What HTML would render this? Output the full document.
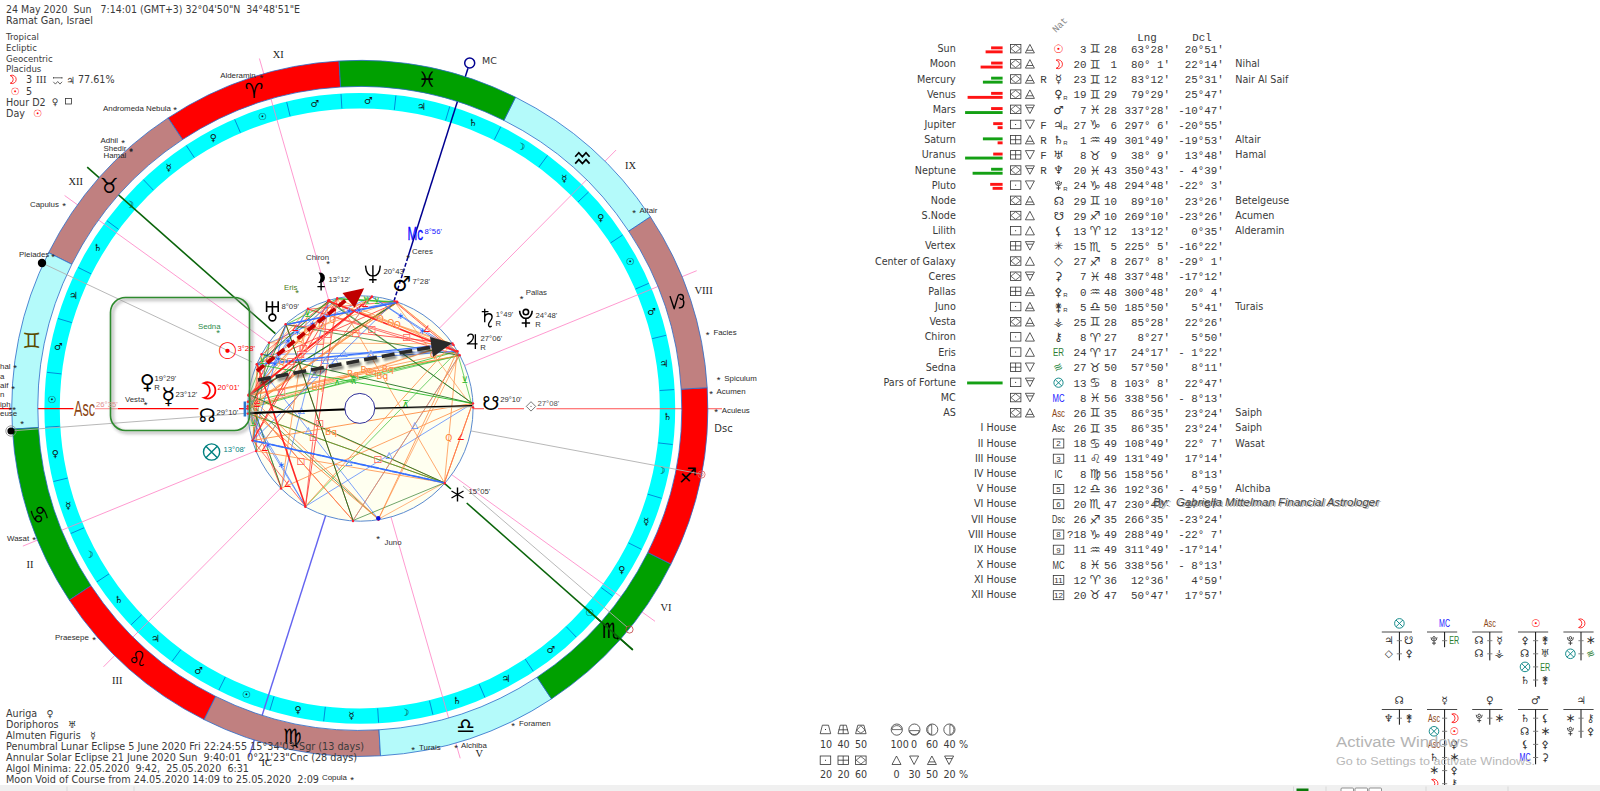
<!DOCTYPE html>
<html lang="en"><head><meta charset="utf-8"><title>Natal chart 24 May 2020 Ramat Gan</title>
<style>
html,body{margin:0;padding:0;background:#fff;overflow:hidden}
svg{display:block}
.vd{font-family:"DejaVu Sans","Liberation Sans",sans-serif}
.ar{font-family:"Liberation Sans","DejaVu Sans",sans-serif}
.ser{font-family:"Liberation Serif","DejaVu Serif",serif}
.mono{font-family:"Liberation Mono","DejaVu Sans Mono",monospace}
.sym{font-family:"DejaVu Sans","Liberation Sans",sans-serif}
</style></head><body>
<svg width="1600" height="791" viewBox="0 0 1600 791">
<defs><filter id="blur" x="-10%" y="-10%" width="120%" height="120%"><feGaussianBlur stdDeviation="1.6"/></filter>
<filter id="blur1" x="-10%" y="-50%" width="120%" height="200%"><feGaussianBlur stdDeviation="1.2"/></filter></defs>
<rect width="1600" height="791" fill="#fff"/>
<circle cx="359.8" cy="408.4" r="307.7" fill="none" stroke="#00FFFF" stroke-width="15.4"/>
<line x1="341.9" y1="108.4" x2="341" y2="94.1" stroke="#0070D0" stroke-width="0.8"/>
<line x1="290.1" y1="116.1" x2="286.7" y2="102.1" stroke="#0070D0" stroke-width="0.8"/>
<line x1="240.4" y1="132.6" x2="234.7" y2="119.4" stroke="#0070D0" stroke-width="0.8"/>
<line x1="194.3" y1="157.6" x2="186.4" y2="145.6" stroke="#0070D0" stroke-width="0.8"/>
<line x1="153.3" y1="190.1" x2="143.4" y2="179.7" stroke="#0070D0" stroke-width="0.8"/>
<line x1="118.5" y1="229.3" x2="106.9" y2="220.7" stroke="#0070D0" stroke-width="0.8"/>
<line x1="91.1" y1="273.9" x2="78.2" y2="267.5" stroke="#0070D0" stroke-width="0.8"/>
<line x1="71.8" y1="322.6" x2="58" y2="318.5" stroke="#0070D0" stroke-width="0.8"/>
<line x1="61.3" y1="373.9" x2="47" y2="372.3" stroke="#0070D0" stroke-width="0.8"/>
<line x1="59.8" y1="426.3" x2="45.5" y2="427.2" stroke="#0070D0" stroke-width="0.8"/>
<line x1="67.5" y1="478.1" x2="53.5" y2="481.5" stroke="#0070D0" stroke-width="0.8"/>
<line x1="84" y1="527.8" x2="70.8" y2="533.5" stroke="#0070D0" stroke-width="0.8"/>
<line x1="109" y1="573.9" x2="97" y2="581.8" stroke="#0070D0" stroke-width="0.8"/>
<line x1="141.5" y1="614.9" x2="131.1" y2="624.8" stroke="#0070D0" stroke-width="0.8"/>
<line x1="180.7" y1="649.7" x2="172.1" y2="661.3" stroke="#0070D0" stroke-width="0.8"/>
<line x1="225.3" y1="677.1" x2="218.9" y2="690" stroke="#0070D0" stroke-width="0.8"/>
<line x1="274" y1="696.4" x2="269.9" y2="710.2" stroke="#0070D0" stroke-width="0.8"/>
<line x1="325.3" y1="706.9" x2="323.7" y2="721.2" stroke="#0070D0" stroke-width="0.8"/>
<line x1="377.7" y1="708.4" x2="378.6" y2="722.7" stroke="#0070D0" stroke-width="0.8"/>
<line x1="429.5" y1="700.7" x2="432.9" y2="714.7" stroke="#0070D0" stroke-width="0.8"/>
<line x1="479.2" y1="684.2" x2="484.9" y2="697.4" stroke="#0070D0" stroke-width="0.8"/>
<line x1="525.3" y1="659.2" x2="533.2" y2="671.2" stroke="#0070D0" stroke-width="0.8"/>
<line x1="566.3" y1="626.7" x2="576.2" y2="637.1" stroke="#0070D0" stroke-width="0.8"/>
<line x1="601.1" y1="587.5" x2="612.7" y2="596.1" stroke="#0070D0" stroke-width="0.8"/>
<line x1="628.5" y1="542.9" x2="641.4" y2="549.3" stroke="#0070D0" stroke-width="0.8"/>
<line x1="647.8" y1="494.2" x2="661.6" y2="498.3" stroke="#0070D0" stroke-width="0.8"/>
<line x1="658.3" y1="442.9" x2="672.6" y2="444.5" stroke="#0070D0" stroke-width="0.8"/>
<line x1="659.8" y1="390.5" x2="674.1" y2="389.6" stroke="#0070D0" stroke-width="0.8"/>
<line x1="652.1" y1="338.7" x2="666.1" y2="335.3" stroke="#0070D0" stroke-width="0.8"/>
<line x1="635.6" y1="289" x2="648.8" y2="283.3" stroke="#0070D0" stroke-width="0.8"/>
<line x1="610.6" y1="242.9" x2="622.6" y2="235" stroke="#0070D0" stroke-width="0.8"/>
<line x1="578.1" y1="201.9" x2="588.5" y2="192" stroke="#0070D0" stroke-width="0.8"/>
<line x1="538.9" y1="167.1" x2="547.5" y2="155.5" stroke="#0070D0" stroke-width="0.8"/>
<line x1="494.3" y1="139.7" x2="500.7" y2="126.8" stroke="#0070D0" stroke-width="0.8"/>
<line x1="445.6" y1="120.4" x2="449.7" y2="106.6" stroke="#0070D0" stroke-width="0.8"/>
<line x1="394.3" y1="109.9" x2="395.9" y2="95.6" stroke="#0070D0" stroke-width="0.8"/>
<g class="sym" font-size="9.8" text-anchor="middle" fill="#101010">
<text x="314.8" y="107.4">♂︎</text>
<text x="262.6" y="119.9">☉︎</text>
<text x="213.4" y="141.2">♀︎</text>
<text x="168.6" y="170.7">☿︎</text>
<text x="129.6" y="207.6">☽︎</text>
<text x="97.7" y="250.6">♄︎</text>
<text x="73.7" y="298.6">♃︎</text>
<text x="58.4" y="350">♂︎</text>
<text x="52.2" y="403.3">☉︎</text>
<text x="55.4" y="456.8">♀︎</text>
<text x="67.9" y="509">☿︎</text>
<text x="89.2" y="558.2">☽︎</text>
<text x="118.7" y="603">♄︎</text>
<text x="155.6" y="642">♃︎</text>
<text x="198.6" y="673.9">♂︎</text>
<text x="246.6" y="697.9">☉︎</text>
<text x="298" y="713.2">♀︎</text>
<text x="351.3" y="719.4">☿︎</text>
<text x="404.8" y="716.2">☽︎</text>
<text x="457" y="703.7">♄︎</text>
<text x="506.2" y="682.4">♃︎</text>
<text x="551" y="652.9">♂︎</text>
<text x="590" y="616">☉︎</text>
<text x="621.9" y="573">♀︎</text>
<text x="645.9" y="525">☿︎</text>
<text x="661.2" y="473.6">☽︎</text>
<text x="667.4" y="420.3">♄︎</text>
<text x="664.2" y="366.8">♃︎</text>
<text x="651.7" y="314.6">♂︎</text>
<text x="630.4" y="265.4">☉︎</text>
<text x="600.9" y="220.6">♀︎</text>
<text x="564" y="181.6">☿︎</text>
<text x="521" y="149.7">☽︎</text>
<text x="473" y="125.7">♄︎</text>
<text x="421.6" y="110.4">♃︎</text>
<text x="368.3" y="104.2">♂︎</text>
</g>
<line x1="255.5" y1="451" x2="22.9" y2="546.1" stroke="#FF80C4" stroke-width="0.8"/>
<line x1="280.4" y1="488.4" x2="103.5" y2="666.8" stroke="#FF80C4" stroke-width="0.8"/>
<line x1="390.9" y1="516.7" x2="460.2" y2="758.3" stroke="#FF80C4" stroke-width="0.8"/>
<line x1="451.2" y1="474.3" x2="655" y2="621.3" stroke="#FF80C4" stroke-width="0.8"/>
<line x1="464.1" y1="365.8" x2="696.7" y2="270.7" stroke="#FF80C4" stroke-width="0.8"/>
<line x1="439.2" y1="328.4" x2="616.1" y2="150" stroke="#FF80C4" stroke-width="0.8"/>
<line x1="328.7" y1="300.1" x2="259.4" y2="58.5" stroke="#FF80C4" stroke-width="0.8"/>
<line x1="268.4" y1="342.5" x2="64.6" y2="195.5" stroke="#FF80C4" stroke-width="0.8"/>
<line x1="0" y1="408.7" x2="73.5" y2="408.7" stroke="#FF0000" stroke-width="1.3"/>
<line x1="95" y1="408.7" x2="118" y2="408.7" stroke="#FF9090" stroke-width="1.1"/>
<line x1="118" y1="408.7" x2="198.5" y2="408.7" stroke="#FF0000" stroke-width="1.3"/>
<line x1="239" y1="408.7" x2="247.1" y2="408.7" stroke="#FF0000" stroke-width="1.3"/>
<line x1="473" y1="408.7" x2="484" y2="408.7" stroke="#FF5050" stroke-width="1.1"/>
<line x1="498" y1="408.7" x2="524" y2="408.7" stroke="#FF5050" stroke-width="1.1"/>
<line x1="536.5" y1="408.7" x2="722" y2="408.7" stroke="#FF5050" stroke-width="1.1"/>
<line x1="407.9" y1="257.2" x2="468" y2="68.2" stroke="#000090" stroke-width="1.5"/>
<line x1="394" y1="301" x2="407.9" y2="257.2" stroke="#000090" stroke-width="1.5" stroke-dasharray="4 2"/>
<circle cx="469.7" cy="63" r="5" fill="#fff" stroke="#000090" stroke-width="1.5"/>
<line x1="325.6" y1="515.8" x2="248.8" y2="757.2" stroke="#6464F0" stroke-width="1.4"/>
<line x1="466.7" y1="503" x2="632.8" y2="649.9" stroke="#0A640A" stroke-width="1.6"/>
<line x1="444.2" y1="483.1" x2="450.9" y2="489" stroke="#0A640A" stroke-width="1.6"/>
<line x1="275.4" y1="333.7" x2="87.2" y2="167.2" stroke="#0A640A" stroke-width="1.6"/>
<path d="M339.1 61A348 348 0 0 0 168.1 117.9L182.5 139.6A322 322 0 0 1 340.6 87Z" fill="#FF0000" stroke="#2A6AC8" stroke-width="0.8"/>
<path d="M168.1 117.9A348 348 0 0 0 48.6 252.7L71.8 264.3A322 322 0 0 1 182.5 139.6Z" fill="#C08080" stroke="#2A6AC8" stroke-width="0.8"/>
<path d="M48.6 252.7A348 348 0 0 0 12.4 429.1L38.4 427.6A322 322 0 0 1 71.8 264.3Z" fill="#B4FAFA" stroke="#2A6AC8" stroke-width="0.8"/>
<path d="M12.4 429.1A348 348 0 0 0 69.3 600.1L91 585.7A322 322 0 0 1 38.4 427.6Z" fill="#00A000" stroke="#2A6AC8" stroke-width="0.8"/>
<path d="M69.3 600.1A348 348 0 0 0 204.1 719.6L215.7 696.4A322 322 0 0 1 91 585.7Z" fill="#FF0000" stroke="#2A6AC8" stroke-width="0.8"/>
<path d="M204.1 719.6A348 348 0 0 0 380.5 755.8L379 729.8A322 322 0 0 1 215.7 696.4Z" fill="#C08080" stroke="#2A6AC8" stroke-width="0.8"/>
<path d="M380.5 755.8A348 348 0 0 0 551.5 698.9L537.1 677.2A322 322 0 0 1 379 729.8Z" fill="#B4FAFA" stroke="#2A6AC8" stroke-width="0.8"/>
<path d="M551.5 698.9A348 348 0 0 0 671 564.1L647.8 552.5A322 322 0 0 1 537.1 677.2Z" fill="#00A000" stroke="#2A6AC8" stroke-width="0.8"/>
<path d="M671 564.1A348 348 0 0 0 707.2 387.7L681.2 389.2A322 322 0 0 1 647.8 552.5Z" fill="#FF0000" stroke="#2A6AC8" stroke-width="0.8"/>
<path d="M707.2 387.7A348 348 0 0 0 650.3 216.7L628.6 231.1A322 322 0 0 1 681.2 389.2Z" fill="#C08080" stroke="#2A6AC8" stroke-width="0.8"/>
<path d="M650.3 216.7A348 348 0 0 0 515.5 97.2L503.9 120.4A322 322 0 0 1 628.6 231.1Z" fill="#B4FAFA" stroke="#2A6AC8" stroke-width="0.8"/>
<path d="M515.5 97.2A348 348 0 0 0 339.1 61L340.6 87A322 322 0 0 1 503.9 120.4Z" fill="#00A000" stroke="#2A6AC8" stroke-width="0.8"/>
<g class="sym" font-size="21" text-anchor="middle" fill="#000">
<text x="254" y="97.6">♈︎</text>
<text x="109.2" y="193.1">♉︎</text>
<text x="31.6" y="348.1" fill="#5A4A00">♊︎</text>
<text x="38.8" y="521.7" transform="rotate(62 38.8 514.7)">♋︎</text>
<text x="137.5" y="666">♌︎</text>
<text x="292.5" y="743.6">♍︎</text>
<text x="465.6" y="733.2">♎︎</text>
<text x="610.4" y="637.7">♏︎</text>
<text x="688" y="482.7">♐︎</text>
<path transform="translate(677.6 302.6)" d="M-7.6 -6.5L-3.4 6.2L0.4 -6.5C1 -8.6 5.6 -8.9 5.8 -5.5C6 -2.7 2.3 -2.5 2.5 -5M5.3 -3.5C7.2 0 6.4 6 1.2 5.2" fill="none" stroke="#000" stroke-width="1.4" stroke-linejoin="round"/>
<path transform="translate(582.4 158.4)" d="M-7.2 -1.6L-3.6 -5.6L0 -1.6L3.6 -5.6L7.2 -1.6M-7.2 5.2L-3.6 1.2L0 5.2L3.6 1.2L7.2 5.2" fill="none" stroke="#000" stroke-width="1.7" stroke-linejoin="miter"/>
<text x="427.1" y="87.2">♓︎</text>
</g>
<line x1="584.5" y1="607.2" x2="632.8" y2="649.9" stroke="#0A640A" stroke-width="1.6"/>
<line x1="42" y1="263" x2="252" y2="362" stroke="#B0B0B0" stroke-width="0.9"/>
<line x1="10" y1="431" x2="250" y2="413" stroke="#B0B0B0" stroke-width="0.9"/>
<line x1="466" y1="430" x2="701" y2="474" stroke="#B0B0B0" stroke-width="0.9"/>
<line x1="463" y1="486" x2="627" y2="627" stroke="#B0B0B0" stroke-width="0.9"/>
<circle cx="42" cy="263" r="4.2" fill="#000"/>
<circle cx="11" cy="431" r="5.2" fill="none" stroke="#888" stroke-width="0.8"/><circle cx="11" cy="431" r="3.6" fill="#000"/>
<circle cx="701.5" cy="474.5" r="3.6" fill="none" stroke="#E06060" stroke-width="0.8"/><circle cx="701.5" cy="474.5" r="1.6" fill="none" stroke="#E06060" stroke-width="0.7"/>
<circle cx="629.5" cy="629.5" r="3.6" fill="none" stroke="#C04040" stroke-width="0.8"/>
<g class="ser" font-size="10.4" fill="#222">
<text x="694.4" y="293.5" textLength="18.3" lengthAdjust="spacingAndGlyphs">VIII</text>
<text x="272.8" y="57.8">XI</text>
<text x="68.5" y="184.5">XII</text>
<text x="26.5" y="568">II</text>
<text x="112" y="683.8">III</text>
<text x="475.5" y="757">V</text>
<text x="660.5" y="610.5">VI</text>
<text x="625" y="169">IX</text>
<text x="261.5" y="765.5">IC</text>
</g>
<text x="482" y="64" class="vd" fill="#333" font-size="9.5">MC</text>
<text x="714.3" y="432.3" class="vd" fill="#333" font-size="10">Dsc</text>
<circle cx="360.4" cy="408.5" r="112.7" fill="#FFFFF0" stroke="#5A8AD0" stroke-width="1"/>
<g stroke-linecap="round" opacity="0.9">
<line x1="257.2" y1="364.4" x2="453.2" y2="345.4" stroke="#2060FF" stroke-width="0.65"/>
<line x1="257.2" y1="364.4" x2="378.4" y2="519.2" stroke="#2060FF" stroke-width="0.65"/>
<line x1="257.2" y1="364.4" x2="308.2" y2="309.2" stroke="#FF8030" stroke-width="0.65"/>
<line x1="257.2" y1="364.4" x2="256.5" y2="451" stroke="#FF1010" stroke-width="0.65"/>
<line x1="257.2" y1="364.4" x2="329.4" y2="300.7" stroke="#0A640A" stroke-width="0.65"/>
<line x1="248.9" y1="395.7" x2="396.5" y2="302.3" stroke="#0A640A" stroke-width="0.65"/>
<line x1="248.9" y1="395.7" x2="281.4" y2="488.2" stroke="#0A640A" stroke-width="0.65"/>
<line x1="248.9" y1="395.7" x2="269.4" y2="342.9" stroke="#10B010" stroke-width="0.65"/>
<line x1="248.4" y1="401.9" x2="378.4" y2="519.2" stroke="#0A640A" stroke-width="0.65"/>
<line x1="248.4" y1="401.9" x2="308.2" y2="309.2" stroke="#2060FF" stroke-width="0.65"/>
<line x1="248.4" y1="401.9" x2="353" y2="520.5" stroke="#FF1010" stroke-width="0.65"/>
<line x1="249.1" y1="394.6" x2="256.5" y2="451" stroke="#10B010" stroke-width="0.65"/>
<line x1="249.1" y1="394.6" x2="281.4" y2="488.2" stroke="#0A640A" stroke-width="0.65"/>
<line x1="397.1" y1="302.5" x2="248.2" y2="406.3" stroke="#FF8030" stroke-width="0.65"/>
<line x1="457.1" y1="351.5" x2="472.6" y2="407.4" stroke="#10B010" stroke-width="0.65"/>
<line x1="457.1" y1="351.5" x2="396.5" y2="302.3" stroke="#FF8030" stroke-width="0.65"/>
<line x1="457.1" y1="351.5" x2="308.2" y2="309.2" stroke="#FF1010" stroke-width="0.65"/>
<line x1="457.1" y1="351.5" x2="262" y2="354.5" stroke="#2060FF" stroke-width="0.65"/>
<line x1="457.1" y1="351.5" x2="305.5" y2="506.4" stroke="#10B010" stroke-width="0.65"/>
<line x1="452" y1="343.8" x2="248.2" y2="406.3" stroke="#FF8030" stroke-width="0.65"/>
<line x1="452" y1="343.8" x2="269.4" y2="342.9" stroke="#FF8030" stroke-width="0.65"/>
<line x1="286" y1="324.6" x2="396.5" y2="302.3" stroke="#2060FF" stroke-width="0.65"/>
<line x1="286" y1="324.6" x2="353" y2="520.5" stroke="#FF1010" stroke-width="0.65"/>
<line x1="371.9" y1="296.9" x2="256.5" y2="451" stroke="#2060FF" stroke-width="0.65"/>
<line x1="371.9" y1="296.9" x2="269.4" y2="342.9" stroke="#2060FF" stroke-width="0.65"/>
<line x1="459.3" y1="355.5" x2="378.4" y2="519.2" stroke="#FF8030" stroke-width="0.65"/>
<line x1="459.3" y1="355.5" x2="248.2" y2="406.3" stroke="#10B010" stroke-width="0.65"/>
<line x1="459.3" y1="355.5" x2="308.2" y2="309.2" stroke="#FF1010" stroke-width="0.65"/>
<line x1="459.3" y1="355.5" x2="353" y2="520.5" stroke="#2060FF" stroke-width="0.65"/>
<line x1="248.3" y1="413.6" x2="305.5" y2="506.4" stroke="#2060FF" stroke-width="0.65"/>
<line x1="472.5" y1="403.4" x2="305.5" y2="506.4" stroke="#2060FF" stroke-width="0.65"/>
<line x1="472.5" y1="403.4" x2="329.4" y2="300.7" stroke="#0A640A" stroke-width="0.65"/>
<line x1="328.3" y1="301" x2="453.2" y2="345.4" stroke="#FF8030" stroke-width="0.65"/>
<line x1="328.3" y1="301" x2="248.2" y2="406.3" stroke="#FF8030" stroke-width="0.65"/>
<line x1="328.3" y1="301" x2="262" y2="354.5" stroke="#FF1010" stroke-width="0.65"/>
<line x1="328.3" y1="301" x2="305.5" y2="506.4" stroke="#FF1010" stroke-width="0.65"/>
<line x1="328.3" y1="301" x2="281.4" y2="488.2" stroke="#2060FF" stroke-width="0.65"/>
<line x1="444.4" y1="482.8" x2="378.4" y2="519.2" stroke="#FF8030" stroke-width="0.65"/>
<line x1="444.4" y1="482.8" x2="353" y2="520.5" stroke="#0A640A" stroke-width="0.65"/>
<line x1="472.6" y1="407.4" x2="394.4" y2="301.6" stroke="#FF8030" stroke-width="0.65"/>
<line x1="396.5" y1="302.3" x2="337.3" y2="298.7" stroke="#10B010" stroke-width="0.65"/>
<line x1="396.5" y1="302.3" x2="248.2" y2="408.5" stroke="#FF8030" stroke-width="0.65"/>
<line x1="308.2" y1="309.2" x2="394.4" y2="301.6" stroke="#FF1010" stroke-width="0.65"/>
<line x1="308.2" y1="309.2" x2="248.2" y2="408.5" stroke="#2060FF" stroke-width="0.65"/>
<line x1="262" y1="354.5" x2="252.8" y2="440.5" stroke="#FF1010" stroke-width="0.65"/>
<line x1="252.8" y1="440.5" x2="305.5" y2="506.4" stroke="#FF1010" stroke-width="0.65"/>
<line x1="252.8" y1="440.5" x2="269.4" y2="342.9" stroke="#0A640A" stroke-width="0.65"/>
<line x1="252.8" y1="440.5" x2="329.4" y2="300.7" stroke="#FF1010" stroke-width="0.65"/>
<line x1="394.4" y1="301.6" x2="269.4" y2="342.9" stroke="#FF8030" stroke-width="0.65"/>
<line x1="248.2" y1="408.5" x2="305.5" y2="506.4" stroke="#2060FF" stroke-width="0.65"/>
<line x1="248.2" y1="408.5" x2="281.4" y2="488.2" stroke="#FF1010" stroke-width="0.65"/>
<line x1="257.2" y1="364.4" x2="397.1" y2="302.5" stroke="#FF1010" stroke-width="0.75"/>
<line x1="257.2" y1="364.4" x2="457.1" y2="351.5" stroke="#2060FF" stroke-width="0.75"/>
<line x1="257.2" y1="364.4" x2="371.9" y2="296.9" stroke="#FF8030" stroke-width="0.75"/>
<line x1="257.2" y1="364.4" x2="328.3" y2="301" stroke="#0A640A" stroke-width="0.75"/>
<line x1="257.2" y1="364.4" x2="337.3" y2="298.7" stroke="#2060FF" stroke-width="0.75"/>
<line x1="257.2" y1="364.4" x2="252.8" y2="440.5" stroke="#FF8030" stroke-width="0.75"/>
<line x1="248.9" y1="395.7" x2="397.1" y2="302.5" stroke="#0A640A" stroke-width="0.75"/>
<line x1="248.9" y1="395.7" x2="457.1" y2="351.5" stroke="#FF8030" stroke-width="0.75"/>
<line x1="248.9" y1="395.7" x2="459.3" y2="355.5" stroke="#FF8030" stroke-width="0.75"/>
<line x1="248.9" y1="395.7" x2="444.4" y2="482.8" stroke="#FF8030" stroke-width="0.75"/>
<line x1="248.9" y1="395.7" x2="337.3" y2="298.7" stroke="#FF8030" stroke-width="0.75"/>
<line x1="248.4" y1="401.9" x2="286" y2="324.6" stroke="#FF1010" stroke-width="0.75"/>
<line x1="248.4" y1="401.9" x2="371.9" y2="296.9" stroke="#FF1010" stroke-width="0.75"/>
<line x1="248.4" y1="401.9" x2="459.3" y2="355.5" stroke="#10B010" stroke-width="0.75"/>
<line x1="249.1" y1="394.6" x2="397.1" y2="302.5" stroke="#0A640A" stroke-width="0.75"/>
<line x1="249.1" y1="394.6" x2="459.3" y2="355.5" stroke="#FF8030" stroke-width="0.75"/>
<line x1="249.1" y1="394.6" x2="337.3" y2="298.7" stroke="#FF8030" stroke-width="0.75"/>
<line x1="397.1" y1="302.5" x2="457.1" y2="351.5" stroke="#FF8030" stroke-width="0.75"/>
<line x1="397.1" y1="302.5" x2="337.3" y2="298.7" stroke="#10B010" stroke-width="0.75"/>
<line x1="397.1" y1="302.5" x2="248.2" y2="408.5" stroke="#FF8030" stroke-width="0.75"/>
<line x1="457.1" y1="351.5" x2="371.9" y2="296.9" stroke="#2060FF" stroke-width="0.75"/>
<line x1="457.1" y1="351.5" x2="444.4" y2="482.8" stroke="#FF8030" stroke-width="0.75"/>
<line x1="457.1" y1="351.5" x2="337.3" y2="298.7" stroke="#FF8030" stroke-width="0.75"/>
<line x1="457.1" y1="351.5" x2="248.2" y2="408.5" stroke="#10B010" stroke-width="0.75"/>
<line x1="452" y1="343.8" x2="286" y2="324.6" stroke="#FF1010" stroke-width="0.75"/>
<line x1="452" y1="343.8" x2="328.3" y2="301" stroke="#FF8030" stroke-width="0.75"/>
<line x1="452" y1="343.8" x2="248.2" y2="408.5" stroke="#FF8030" stroke-width="0.75"/>
<line x1="286" y1="324.6" x2="459.3" y2="355.5" stroke="#0A640A" stroke-width="0.75"/>
<line x1="286" y1="324.6" x2="248.3" y2="413.6" stroke="#0A640A" stroke-width="0.75"/>
<line x1="286" y1="324.6" x2="337.3" y2="298.7" stroke="#10B010" stroke-width="0.75"/>
<line x1="286" y1="324.6" x2="252.8" y2="440.5" stroke="#2060FF" stroke-width="0.75"/>
<line x1="286" y1="324.6" x2="394.4" y2="301.6" stroke="#2060FF" stroke-width="0.75"/>
<line x1="371.9" y1="296.9" x2="459.3" y2="355.5" stroke="#2060FF" stroke-width="0.75"/>
<line x1="459.3" y1="355.5" x2="394.4" y2="301.6" stroke="#FF1010" stroke-width="0.75"/>
<line x1="248.3" y1="413.6" x2="444.4" y2="482.8" stroke="#FF1010" stroke-width="0.75"/>
<line x1="472.5" y1="403.4" x2="328.3" y2="301" stroke="#0A640A" stroke-width="0.75"/>
<line x1="472.5" y1="403.4" x2="444.4" y2="482.8" stroke="#FF1010" stroke-width="0.75"/>
<line x1="328.3" y1="301" x2="252.8" y2="440.5" stroke="#FF1010" stroke-width="0.75"/>
<line x1="444.4" y1="482.8" x2="337.3" y2="298.7" stroke="#FF8030" stroke-width="0.75"/>
<line x1="444.4" y1="482.8" x2="252.8" y2="440.5" stroke="#2060FF" stroke-width="0.75"/>
<line x1="337.3" y1="298.7" x2="252.8" y2="440.5" stroke="#FF1010" stroke-width="0.75"/>
<line x1="337.3" y1="298.7" x2="394.4" y2="301.6" stroke="#10B010" stroke-width="0.75"/>
<line x1="252.8" y1="440.5" x2="394.4" y2="301.6" stroke="#2060FF" stroke-width="0.75"/>
<line x1="394.4" y1="301.6" x2="248.2" y2="408.5" stroke="#FF8030" stroke-width="0.75"/>
<line x1="378.4" y1="519.2" x2="248.9" y2="395.7" stroke="#FF8030" stroke-width="0.8"/>
<line x1="444.4" y1="482.8" x2="248.3" y2="413.6" stroke="#10B010" stroke-width="0.8"/>
<line x1="353" y1="520.5" x2="248.4" y2="401.9" stroke="#FF8030" stroke-width="0.8"/>
<line x1="305.5" y1="506.4" x2="337.3" y2="298.7" stroke="#FF1010" stroke-width="0.8"/>
<line x1="281.4" y1="488.2" x2="308.2" y2="309.2" stroke="#FF8030" stroke-width="0.8"/>
<line x1="444.4" y1="482.8" x2="256.5" y2="451" stroke="#FF8030" stroke-width="0.8"/>
<line x1="305.5" y1="506.4" x2="452" y2="343.8" stroke="#FF8030" stroke-width="0.8"/>
<line x1="353" y1="520.5" x2="459.3" y2="355.5" stroke="#FF8030" stroke-width="0.8"/>
<line x1="378.4" y1="519.2" x2="457.1" y2="351.5" stroke="#FF8030" stroke-width="0.8"/>
<line x1="281.4" y1="488.2" x2="472.5" y2="403.4" stroke="#FF8030" stroke-width="0.8"/>
<line x1="256.5" y1="451" x2="371.9" y2="296.9" stroke="#FF8030" stroke-width="0.8"/>
<line x1="472.5" y1="403.4" x2="444.4" y2="482.8" stroke="#FF8030" stroke-width="0.9"/>
<line x1="472.5" y1="403.4" x2="252.8" y2="440.5" stroke="#FF8030" stroke-width="0.9"/>
<line x1="378.4" y1="519.2" x2="248.2" y2="408.5" stroke="#FF8030" stroke-width="0.9"/>
<line x1="444.4" y1="482.8" x2="249.1" y2="394.6" stroke="#0A640A" stroke-width="0.9"/>
<line x1="472.5" y1="403.4" x2="262" y2="354.5" stroke="#0A640A" stroke-width="0.9"/>
<line x1="472.5" y1="403.4" x2="257.2" y2="364.4" stroke="#10B010" stroke-width="0.9"/>
<line x1="286" y1="324.6" x2="353" y2="520.5" stroke="#0A640A" stroke-width="1.0"/>
<line x1="257.2" y1="364.4" x2="452" y2="343.8" stroke="#2060FF" stroke-width="1.3"/>
<line x1="248.9" y1="395.7" x2="371.9" y2="296.9" stroke="#FF1010" stroke-width="1.3"/>
<line x1="249.1" y1="394.6" x2="371.9" y2="296.9" stroke="#FF1010" stroke-width="1.3"/>
<line x1="397.1" y1="302.5" x2="286" y2="324.6" stroke="#2060FF" stroke-width="1.3"/>
<line x1="257.2" y1="364.4" x2="305.5" y2="506.4" stroke="#FF1010" stroke-width="1.6"/>
<line x1="252.8" y1="440.5" x2="444.4" y2="482.8" stroke="#2060FF" stroke-width="1.7" stroke-dasharray="5 1.5"/>
<line x1="328.3" y1="301" x2="457.1" y2="351.5" stroke="#FF1010" stroke-width="1.7"/>
</g>
<g class="sym" font-size="9" text-anchor="middle">
<text x="327.2" y="336.5" fill="#FF1010" stroke="#FFFFF0" stroke-width="0.3" paint-order="stroke">□</text>
<text x="325.2" y="363.1" fill="#2060FF" stroke="#FFFFF0" stroke-width="0.3" paint-order="stroke">△</text>
<text x="370.2" y="355.5" fill="#2060FF" stroke="#FFFFF0" stroke-width="0.3" paint-order="stroke">△</text>
<text x="332.9" y="322.9" fill="#FF8030" stroke="#FFFFF0" stroke-width="0.3" paint-order="stroke">Q</text>
<text x="370.9" y="356.4" fill="#2060FF" stroke="#FFFFF0" stroke-width="0.3" paint-order="stroke">△</text>
<text x="308.1" y="432.5" fill="#2060FF" stroke="#FFFFF0" stroke-width="0.3" paint-order="stroke">△</text>
<text x="297.3" y="334.6" fill="#2060FF" stroke="#FFFFF0" stroke-width="0.3" paint-order="stroke">∗</text>
<text x="256.9" y="403.8" fill="#FF1010" stroke="#FFFFF0" stroke-width="0.3" paint-order="stroke">∠</text>
<text x="353" y="376.6" fill="#FF8030" stroke="#FFFFF0" stroke-width="0.3" paint-order="stroke">Bq</text>
<text x="300.6" y="357.2" fill="#FF1010" stroke="#FFFFF0" stroke-width="0.3" paint-order="stroke">□</text>
<text x="387.8" y="372.1" fill="#FF8030" stroke="#FFFFF0" stroke-width="0.3" paint-order="stroke">Bq</text>
<text x="331" y="435.3" fill="#FF8030" stroke="#FFFFF0" stroke-width="0.3" paint-order="stroke">Bq</text>
<text x="307.3" y="334.7" fill="#FF8030" stroke="#FFFFF0" stroke-width="0.3" paint-order="stroke">Q</text>
<text x="262.4" y="363.8" fill="#10B010" stroke="#FFFFF0" stroke-width="0.3" paint-order="stroke">⊻</text>
<text x="261.2" y="378.6" fill="#FF1010" stroke="#FFFFF0" stroke-width="0.3" paint-order="stroke">∠</text>
<text x="320" y="344" fill="#FF1010" stroke="#FFFFF0" stroke-width="0.3" paint-order="stroke">□</text>
<text x="337" y="385.4" fill="#10B010" stroke="#FFFFF0" stroke-width="0.3" paint-order="stroke">⊼</text>
<text x="287.9" y="343.7" fill="#2060FF" stroke="#FFFFF0" stroke-width="0.3" paint-order="stroke">∗</text>
<text x="300.7" y="464.2" fill="#FF1010" stroke="#FFFFF0" stroke-width="0.3" paint-order="stroke">□</text>
<text x="290.8" y="364.4" fill="#FF1010" stroke="#FFFFF0" stroke-width="0.3" paint-order="stroke">□</text>
<text x="371" y="374.9" fill="#FF8030" stroke="#FFFFF0" stroke-width="0.3" paint-order="stroke">Bq</text>
<text x="300.3" y="342" fill="#FF8030" stroke="#FFFFF0" stroke-width="0.3" paint-order="stroke">Q</text>
<text x="252.8" y="425.8" fill="#10B010" stroke="#FFFFF0" stroke-width="0.3" paint-order="stroke">⊻</text>
<text x="323.8" y="320.1" fill="#2060FF" stroke="#FFFFF0" stroke-width="0.3" paint-order="stroke">∗</text>
<text x="376.8" y="304.2" fill="#10B010" stroke="#FFFFF0" stroke-width="0.3" paint-order="stroke">⊻</text>
<text x="400.8" y="318.5" fill="#2060FF" stroke="#FFFFF0" stroke-width="0.3" paint-order="stroke">∗</text>
<text x="448.7" y="441.2" fill="#FF8030" stroke="#FFFFF0" stroke-width="0.3" paint-order="stroke">Q</text>
<text x="464.8" y="382.5" fill="#10B010" stroke="#FFFFF0" stroke-width="0.3" paint-order="stroke">⊻</text>
<text x="397.2" y="328.1" fill="#FF8030" stroke="#FFFFF0" stroke-width="0.3" paint-order="stroke">Q</text>
<text x="406.5" y="340.1" fill="#FF1010" stroke="#FFFFF0" stroke-width="0.3" paint-order="stroke">□</text>
<text x="343.9" y="356.3" fill="#2060FF" stroke="#FFFFF0" stroke-width="0.3" paint-order="stroke">△</text>
<text x="352.6" y="383" fill="#10B010" stroke="#FFFFF0" stroke-width="0.3" paint-order="stroke">⊼</text>
<text x="405.5" y="407.2" fill="#10B010" stroke="#FFFFF0" stroke-width="0.3" paint-order="stroke">⊼</text>
<text x="355.7" y="335.6" fill="#FF1010" stroke="#FFFFF0" stroke-width="0.3" paint-order="stroke">□</text>
<text x="380.3" y="322" fill="#FF8030" stroke="#FFFFF0" stroke-width="0.3" paint-order="stroke">Q</text>
<text x="366.4" y="373" fill="#FF8030" stroke="#FFFFF0" stroke-width="0.3" paint-order="stroke">Bq</text>
<text x="317.5" y="389.5" fill="#FF8030" stroke="#FFFFF0" stroke-width="0.3" paint-order="stroke">Bq</text>
<text x="358.9" y="312.9" fill="#2060FF" stroke="#FFFFF0" stroke-width="0.3" paint-order="stroke">∗</text>
<text x="307.5" y="316.7" fill="#10B010" stroke="#FFFFF0" stroke-width="0.3" paint-order="stroke">⊻</text>
<text x="274.7" y="367" fill="#2060FF" stroke="#FFFFF0" stroke-width="0.3" paint-order="stroke">∗</text>
<text x="348.9" y="314.2" fill="#2060FF" stroke="#FFFFF0" stroke-width="0.3" paint-order="stroke">∗</text>
<text x="319.5" y="425.5" fill="#FF1010" stroke="#FFFFF0" stroke-width="0.3" paint-order="stroke">□</text>
<text x="422.6" y="333.9" fill="#2060FF" stroke="#FFFFF0" stroke-width="0.3" paint-order="stroke">∗</text>
<text x="314.2" y="376.9" fill="#2060FF" stroke="#FFFFF0" stroke-width="0.3" paint-order="stroke">△</text>
<text x="312.4" y="326.6" fill="#2060FF" stroke="#FFFFF0" stroke-width="0.3" paint-order="stroke">∗</text>
<text x="353.7" y="383.9" fill="#10B010" stroke="#FFFFF0" stroke-width="0.3" paint-order="stroke">⊼</text>
<text x="371.7" y="331.6" fill="#FF1010" stroke="#FFFFF0" stroke-width="0.3" paint-order="stroke">□</text>
<text x="426.8" y="331.5" fill="#FF1010" stroke="#FFFFF0" stroke-width="0.3" paint-order="stroke">∠</text>
<text x="414.6" y="427.8" fill="#2060FF" stroke="#FFFFF0" stroke-width="0.3" paint-order="stroke">△</text>
<text x="377.8" y="462.3" fill="#FF1010" stroke="#FFFFF0" stroke-width="0.3" paint-order="stroke">□</text>
<text x="267.8" y="448.1" fill="#2060FF" stroke="#FFFFF0" stroke-width="0.3" paint-order="stroke">∗</text>
<text x="460.7" y="439.8" fill="#FF1010" stroke="#FFFFF0" stroke-width="0.3" paint-order="stroke">∠</text>
<text x="389" y="457.9" fill="#2060FF" stroke="#FFFFF0" stroke-width="0.3" paint-order="stroke">△</text>
<text x="390.7" y="326.2" fill="#FF8030" stroke="#FFFFF0" stroke-width="0.3" paint-order="stroke">Q</text>
<text x="281.9" y="365.1" fill="#FF8030" stroke="#FFFFF0" stroke-width="0.3" paint-order="stroke">Q</text>
<text x="295.2" y="330.8" fill="#FF1010" stroke="#FFFFF0" stroke-width="0.3" paint-order="stroke">∠</text>
<text x="302.7" y="351.4" fill="#FF1010" stroke="#FFFFF0" stroke-width="0.3" paint-order="stroke">□</text>
<text x="313.3" y="439.5" fill="#FF1010" stroke="#FFFFF0" stroke-width="0.3" paint-order="stroke">□</text>
<text x="301.1" y="412.5" fill="#2060FF" stroke="#FFFFF0" stroke-width="0.3" paint-order="stroke">△</text>
<text x="382.3" y="379" fill="#FF8030" stroke="#FFFFF0" stroke-width="0.3" paint-order="stroke">Bq</text>
<text x="348.6" y="464.7" fill="#2060FF" stroke="#FFFFF0" stroke-width="0.3" paint-order="stroke">△</text>
<text x="433.5" y="357.5" fill="#FF8030" stroke="#FFFFF0" stroke-width="0.3" paint-order="stroke">Q</text>
<text x="366.9" y="303.5" fill="#10B010" stroke="#FFFFF0" stroke-width="0.3" paint-order="stroke">⊻</text>
<text x="281.6" y="395.3" fill="#FF1010" stroke="#FFFFF0" stroke-width="0.3" paint-order="stroke">□</text>
<text x="365.9" y="303.1" fill="#10B010" stroke="#FFFFF0" stroke-width="0.3" paint-order="stroke">⊻</text>
<text x="365.1" y="307.2" fill="#FF1010" stroke="#FFFFF0" stroke-width="0.3" paint-order="stroke">∠</text>
<text x="278.2" y="361.8" fill="#2060FF" stroke="#FFFFF0" stroke-width="0.3" paint-order="stroke">∗</text>
<text x="256.7" y="407.4" fill="#FF1010" stroke="#FFFFF0" stroke-width="0.3" paint-order="stroke">∠</text>
<text x="335" y="362.9" fill="#2060FF" stroke="#FFFFF0" stroke-width="0.3" paint-order="stroke">△</text>
<text x="287.6" y="487" fill="#FF1010" stroke="#FFFFF0" stroke-width="0.3" paint-order="stroke">∠</text>
<text x="303.4" y="351.2" fill="#FF1010" stroke="#FFFFF0" stroke-width="0.3" paint-order="stroke">□</text>
<text x="321.9" y="328.5" fill="#FF8030" stroke="#FFFFF0" stroke-width="0.3" paint-order="stroke">Q</text>
<text x="281.4" y="468.3" fill="#2060FF" stroke="#FFFFF0" stroke-width="0.3" paint-order="stroke">∗</text>
<text x="264.8" y="451.3" fill="#FF1010" stroke="#FFFFF0" stroke-width="0.3" paint-order="stroke">∠</text>
</g>
<circle cx="256.7" cy="364.3" r="1.2" fill="#FF2030"/>
<circle cx="248.4" cy="395.6" r="1.2" fill="#FF2030"/>
<circle cx="247.9" cy="401.8" r="1.2" fill="#FF2030"/>
<circle cx="248.6" cy="394.6" r="1.2" fill="#FF2030"/>
<circle cx="397.3" cy="302" r="1.2" fill="#FF2030"/>
<circle cx="457.5" cy="351.3" r="1.2" fill="#FF2030"/>
<circle cx="452.5" cy="343.5" r="1.2" fill="#FF2030"/>
<circle cx="285.6" cy="324.2" r="1.2" fill="#FF2030"/>
<circle cx="371.9" cy="296.4" r="1.2" fill="#FF2030"/>
<circle cx="459.7" cy="355.2" r="1.2" fill="#FF2030"/>
<circle cx="247.8" cy="413.6" r="1.2" fill="#FF2030"/>
<circle cx="473" cy="403.4" r="1.2" fill="#FF2030"/>
<circle cx="328.2" cy="300.5" r="1.2" fill="#FF2030"/>
<circle cx="444.8" cy="483.2" r="1.2" fill="#FF2030"/>
<circle cx="473.1" cy="407.4" r="1.2" fill="#FF2030"/>
<circle cx="396.7" cy="301.8" r="1.2" fill="#FF2030"/>
<circle cx="453.6" cy="345.1" r="1.2" fill="#FF2030"/>
<circle cx="378.5" cy="519.7" r="1.2" fill="#FF2030"/>
<circle cx="247.7" cy="406.3" r="1.2" fill="#FF2030"/>
<circle cx="337.2" cy="298.2" r="1.2" fill="#FF2030"/>
<circle cx="308" cy="308.7" r="1.2" fill="#FF2030"/>
<circle cx="261.6" cy="354.3" r="1.2" fill="#FF2030"/>
<circle cx="252.4" cy="440.6" r="1.2" fill="#FF2030"/>
<circle cx="394.6" cy="301.1" r="1.2" fill="#FF2030"/>
<circle cx="247.7" cy="408.5" r="1.2" fill="#FF2030"/>
<circle cx="305.3" cy="506.8" r="1.2" fill="#FF2030"/>
<circle cx="353" cy="521" r="1.2" fill="#FF2030"/>
<circle cx="256.1" cy="451.1" r="1.2" fill="#FF2030"/>
<circle cx="281" cy="488.5" r="1.2" fill="#FF2030"/>
<circle cx="269" cy="342.6" r="1.2" fill="#FF2030"/>
<circle cx="329.3" cy="300.2" r="1.2" fill="#FF2030"/>
<line x1="250" y1="412" x2="472" y2="406.6" stroke="#B8B8A8" stroke-width="1.2"/>
<line x1="250" y1="413.2" x2="359.8" y2="408.7" stroke="#000" stroke-width="1.9"/>
<line x1="359.8" y1="408.7" x2="472" y2="405.6" stroke="#000" stroke-width="1.2"/>
<circle cx="359.8" cy="408.4" r="15" fill="#fff" stroke="#1A1A90" stroke-width="0.9"/>
<circle cx="378.3" cy="518.3" r="2.2" fill="#1010E0"/>
<rect x="243.6" y="401.5" width="2.6" height="15" fill="#2A78D0"/>
<rect x="112.5" y="299.5" width="139" height="133" rx="15" fill="none" stroke="#9A9A9A" stroke-width="3.5" opacity="0.55" filter="url(#blur)"/>
<rect x="110.5" y="297.5" width="139" height="133" rx="15" fill="none" stroke="#2E8B2E" stroke-width="1.6"/>
<g class="ar" font-size="7.9" fill="#2A2A2A">
<text x="220.2" y="78">Alderamin</text>
<text x="261.3" y="81.1" class="ar" fill="#222" font-size="9.5" text-anchor="middle">*</text>
<text x="103" y="111">Andromeda Nebula</text>
<text x="175" y="112.6" class="ar" fill="#222" font-size="9.5" text-anchor="middle">*</text>
<text x="100.5" y="143">Adhil</text>
<text x="123" y="146.1" class="ar" fill="#222" font-size="9.5" text-anchor="middle">*</text>
<text x="103.5" y="151">Shedir</text>
<text x="131" y="154.1" class="ar" fill="#222" font-size="9.5" text-anchor="middle">*</text>
<text x="103.5" y="158">Hamal</text>
<text x="131" y="154.6" class="ar" fill="#222" font-size="9.5" text-anchor="middle">*</text>
<text x="30" y="207">Capulus</text>
<text x="64" y="208.6" class="ar" fill="#222" font-size="9.5" text-anchor="middle">*</text>
<text x="19" y="257">Pleiades</text>
<text x="53" y="259.6" class="ar" fill="#222" font-size="9.5" text-anchor="middle">*</text>
<text x="0" y="369">hal</text>
<text x="15" y="370.6" class="ar" fill="#222" font-size="9.5" text-anchor="middle">*</text>
<text x="0" y="379">a</text>
<text x="0" y="388">aif</text>
<text x="13" y="391.6" class="ar" fill="#222" font-size="9.5" text-anchor="middle">*</text>
<text x="0" y="397">n</text>
<text x="14" y="412.6" class="ar" fill="#222" font-size="9.5" text-anchor="middle">*</text>
<text x="0" y="407">iph</text>
<text x="10" y="412.6" class="ar" fill="#222" font-size="9.5" text-anchor="middle">*</text>
<text x="0" y="416">euse</text>
<text x="22" y="426.6" class="ar" fill="#222" font-size="9.5" text-anchor="middle">*</text>
<text x="7" y="541">Wasat</text>
<text x="34" y="542.6" class="ar" fill="#222" font-size="9.5" text-anchor="middle">*</text>
<text x="55" y="640">Praesepe</text>
<text x="94" y="642.6" class="ar" fill="#222" font-size="9.5" text-anchor="middle">*</text>
<text x="322" y="780">Copula</text>
<text x="352" y="782.6" class="ar" fill="#222" font-size="9.5" text-anchor="middle">*</text>
<text x="419" y="750">Turais</text>
<text x="413" y="752.6" class="ar" fill="#222" font-size="9.5" text-anchor="middle">*</text>
<text x="461" y="748">Alchiba</text>
<text x="456" y="750.6" class="ar" fill="#222" font-size="9.5" text-anchor="middle">*</text>
<text x="519" y="726">Foramen</text>
<text x="513" y="728.6" class="ar" fill="#222" font-size="9.5" text-anchor="middle">*</text>
<text x="639.5" y="213">Altair</text>
<text x="634" y="216.1" class="ar" fill="#222" font-size="9.5" text-anchor="middle">*</text>
<text x="713.4" y="335">Facies</text>
<text x="707.5" y="338.1" class="ar" fill="#222" font-size="9.5" text-anchor="middle">*</text>
<text x="724.3" y="381">Spiculum</text>
<text x="718.5" y="383.1" class="ar" fill="#222" font-size="9.5" text-anchor="middle">*</text>
<text x="716.6" y="394">Acumen</text>
<text x="711" y="396.6" class="ar" fill="#222" font-size="9.5" text-anchor="middle">*</text>
<text x="721.7" y="413">Aculeus</text>
<text x="716" y="415.1" class="ar" fill="#222" font-size="9.5" text-anchor="middle">*</text>
</g>
<g class="ar" font-size="7.8" fill="#333">
<text x="306" y="260">Chiron</text>
<text x="328" y="266.6" class="ar" fill="#222" font-size="9.5" text-anchor="middle">*</text>
<text x="284" y="290" fill="#4A7A20">Eris</text>
<text x="297" y="295.6" class="ar" fill="#4A7A20" font-size="9.5" text-anchor="middle">*</text>
<text x="198" y="329" fill="#2E8B4A">Sedna</text>
<text x="218" y="335.6" class="ar" fill="#2E8B4A" font-size="9.5" text-anchor="middle">*</text>
<text x="412" y="254">Ceres</text>
<text x="408" y="260.6" class="ar" fill="#222" font-size="9.5" text-anchor="middle">*</text>
<text x="525.7" y="295.3">Pallas</text>
<text x="521.7" y="302.1" class="ar" fill="#222" font-size="9.5" text-anchor="middle">*</text>
<text x="125" y="402">Vesta</text>
<text x="145.5" y="408.1" class="ar" fill="#222" font-size="9.5" text-anchor="middle">*</text>
<text x="384.6" y="545.4">Juno</text>
<text x="378" y="541.6" class="ar" fill="#222" font-size="9.5" text-anchor="middle">*</text>
</g>
<g transform="translate(272.4 311)" fill="none" stroke="#000" stroke-width="1.6"><path d="M-5.8 -9.7V1.1M5.8 -9.7V1.1M-5.8 -4.3H5.8M0 -9.7V3"/><circle cx="0" cy="6.5" r="3.4"/></g>
<text x="281.5" y="309.2" class="ar" fill="#333" font-size="7.7">8°09'</text>
<path d="M318.4 272.6A5.3 5.3 0 1 1 318.4 282.9A7.5 7.5 0 0 0 318.4 272.6Z" fill="#000"/><path d="M321.1 282.4V290.5M317.4 286.6H324.8" stroke="#000" stroke-width="1.4" fill="none"/>
<text x="328.5" y="282.2" class="ar" fill="#333" font-size="7.7">13°12'</text>
<path d="M-7.4 -8.6Q-6.7 1.9 0 1.9Q6.7 1.9 7.4 -8.6M0 -8.9V8.9M-3.7 5.6H3.7" transform="translate(372.9 274.2)" fill="none" stroke="#000" stroke-width="1.4"/>
<text x="383.5" y="274.2" class="ar" fill="#333" font-size="7.7">20°43'</text>
<text x="401.7" y="291.3" class="sym" fill="#000" font-size="21" text-anchor="middle">♂︎</text>
<text x="412.5" y="284.2" class="ar" fill="#333" font-size="7.7">7°28'</text>
<path transform="translate(487.6 317.8) scale(0.9)" d="M-3.2 -10V5M-6.5 -6.8H1M-3.2 -1.5C-1.5 -5.5 5 -5.8 5 -1C5 3 0.8 4.5 1 8C1.2 10.3 3.2 10.6 4.4 9" fill="none" stroke="#000" stroke-width="1.5"/>
<text x="495.8" y="317.2" class="ar" fill="#333" font-size="7.7">1°49'</text>
<text x="495.6" y="326" class="ar" fill="#333" font-size="7.7">R</text>
<g transform="translate(525.9 318.4)" fill="none" stroke="#000" stroke-width="1.6" stroke-linecap="butt"><circle cx="0" cy="-6.3" r="2.7"/><path d="M-6.3 -7.6A6.3 7.6 0 0 0 6.3 -7.6M0 0V8.8M-4.2 4.6H4.2"/></g>
<text x="535.5" y="318.2" class="ar" fill="#333" font-size="7.7">24°48'</text>
<text x="535.3" y="327" class="ar" fill="#333" font-size="7.7">R</text>
<path transform="translate(472.3 341.4) scale(0.9)" d="M-5.2 -5.5C-4 -9.2 1.2 -9 1.2 -5C1.2 -1.5 -2.5 1.8 -6 2.8H5.8M3.4 -8V8.5" fill="none" stroke="#000" stroke-width="1.5"/>
<text x="480.5" y="341.2" class="ar" fill="#333" font-size="7.7">27°06'</text>
<text x="480.3" y="350" class="ar" fill="#333" font-size="7.7">R</text>
<text x="491" y="409.5" class="sym" fill="#000" font-size="19.5" text-anchor="middle">☋︎</text>
<text x="500.2" y="402" class="ar" fill="#333" font-size="7.7">29°10'</text>
<path d="M531 401.7L535.7 406.4L531 411.1L526.3 406.4Z" fill="none" stroke="#555" stroke-width="0.8"/><rect x="530.5" y="405.9" width="1" height="1" fill="#555"/>
<text x="537.5" y="406.2" class="ar" fill="#555" font-size="7.7">27°08'</text>
<path d="M457.5 487.5v14M451.5 498l12 -7M451.5 491l12 7" stroke="#000" stroke-width="1.4" fill="none"/>
<text x="468.5" y="494.2" class="ar" fill="#333" font-size="7.7">15°05'</text>
<text x="227.5" y="358.5" class="sym" fill="#FF0000" font-size="23" text-anchor="middle">☉︎</text>
<text x="237.5" y="351.2" class="ar" fill="#FF0000" font-size="7.7">3°28'</text>
<text x="147.2" y="388.6" class="sym" fill="#000" font-size="20.5" text-anchor="middle">♀︎</text>
<text x="154.5" y="381.2" class="ar" fill="#333" font-size="7.7">19°29'</text>
<text x="154.3" y="390" class="ar" fill="#333" font-size="7.7">R</text>
<text x="168.3" y="404.3" class="sym" fill="#000" font-size="23" text-anchor="middle">☿︎</text>
<text x="175.5" y="397.2" class="ar" fill="#333" font-size="7.7">23°12'</text>
<path d="M204 383A8.1 8.1 0 1 1 204 397.8A7.6 7.6 0 0 0 204 383Z" fill="none" stroke="#FF0000" stroke-width="1.8" stroke-linejoin="miter"/>
<text x="217.5" y="390.2" class="ar" fill="#FF0000" font-size="7.7">20°01'</text>
<text x="207.2" y="422.3" class="sym" fill="#000" font-size="19" text-anchor="middle">☊︎</text>
<text x="216.5" y="415.2" class="ar" fill="#333" font-size="7.7">29°10'</text>
<g stroke="#008080" stroke-width="1.4" fill="none"><circle cx="211.6" cy="452" r="8.1"/><path d="M205.9 446.3L217.3 457.7M217.3 446.3L205.9 457.7"/></g>
<text x="223.5" y="452.2" class="ar" fill="#008080" font-size="7.7">13°08'</text>
<text x="407.6" y="240.4" class="ar" fill="#1010FF" font-size="18.5" textLength="15.6" lengthAdjust="spacingAndGlyphs" stroke="#1010FF" stroke-width="0.35">Mc</text>
<text x="424.5" y="233.5" class="ar" fill="#2020FF" font-size="7.7">8°56'</text>
<text x="74" y="416" class="ar" fill="#8B4513" font-size="22" textLength="21" lengthAdjust="spacingAndGlyphs">Asc</text>
<text x="96" y="407" class="ar" fill="#E09090" font-size="7.7">26°35'</text>
<g filter="url(#blur1)" opacity="0.45"><line x1="260" y1="383" x2="436" y2="349" stroke="#000" stroke-width="4" stroke-dasharray="13 5"/></g>
<line x1="258" y1="380" x2="434" y2="346.5" stroke="#2A2A2A" stroke-width="3.6" stroke-dasharray="13 5"/>
<path d="M452 343 L430 337 L433 357Z" fill="#2A2A2A"/>
<line x1="257" y1="371" x2="346" y2="300" stroke="#C00000" stroke-width="3.8" stroke-dasharray="9 4"/>
<path d="M342.5 293 L364.2 288.2 L354.6 307.8Z" fill="#C00000"/>
<g class="vd" font-size="9.6" fill="#3A3A3A" style="white-space:pre">
<text x="6" y="13" textLength="294" lengthAdjust="spacingAndGlyphs">24 May 2020  Sun   7:14:01 (GMT+3) 32°04'50"N  34°48'51"E</text>
<text x="6" y="24" textLength="87" lengthAdjust="spacingAndGlyphs">Ramat Gan, Israel</text>
</g>
<g class="vd" font-size="8.6" fill="#3A3A3A">
<text x="6" y="40">Tropical</text>
<text x="6" y="50.8">Ecliptic</text>
<text x="6" y="61.6">Geocentric</text>
<text x="6" y="72.4">Placidus</text>
</g>
<g class="vd" font-size="9.6" fill="#3A3A3A">
<text x="26" y="83">3</text>
<text x="36" y="83" class="ser" font-size="10.5">III</text>
<text x="78" y="83">77.61%</text>
<text x="26" y="94.5">5</text>
<text x="6" y="106">Hour D2</text>
<text x="6" y="117">Day</text>
</g>
<g class="sym" text-anchor="middle">
<path d="M10.2 75.6A4.2 4.2 0 1 1 10.2 83.2A3.9 3.9 0 0 0 10.2 75.6Z" fill="none" stroke="#FF0000" stroke-width="0.8" stroke-linejoin="miter"/>
<text x="15" y="94.5" fill="#FF0000" font-size="10">☉︎</text>
<path d="M53.5 77v1.6M62 77v1.6M53.5 77.8H62M53.3 81.8l2.1 2.3l2.3 -2.6l2.3 2.6l2.1 -2.3" fill="none" stroke="#444" stroke-width="0.8"/>
<text x="70.5" y="83.5" fill="#333" font-size="10">♃︎</text>
<text x="55" y="105" fill="#333" font-size="9">♀︎</text>
<text x="37.5" y="116.5" fill="#FF0000" font-size="10">☉︎</text>
</g>
<rect x="65.5" y="98.5" width="6" height="5.5" fill="none" stroke="#333" stroke-width="0.8"/>
<g class="vd" font-size="9.6" fill="#3A3A3A" style="white-space:pre">
<text x="6" y="717">Auriga</text>
<text x="6" y="728">Doriphoros</text>
<text x="6" y="739">Almuten Figuris</text>
<text x="6" y="750" textLength="358" lengthAdjust="spacingAndGlyphs">Penumbral Lunar Eclipse 5 June 2020 Fri 22:24:55 15°34'03"Sgr (13 days)</text>
<text x="6" y="761" textLength="351" lengthAdjust="spacingAndGlyphs">Annular Solar Eclipse 21 June 2020 Sun  9:40:01  0°21'23"Cnc (28 days)</text>
<text x="6" y="772" textLength="243" lengthAdjust="spacingAndGlyphs">Algol Minima: 22.05.2020  9:42,  25.05.2020  6:31</text>
<text x="6" y="782.6" textLength="313" lengthAdjust="spacingAndGlyphs">Moon Void of Course from 24.05.2020 14:09 to 25.05.2020  2:09</text>
</g>
<g class="sym" text-anchor="middle" fill="#333">
<text x="50" y="717" font-size="9.5">♀︎</text>
<text x="72" y="728" font-size="9.5">♅︎</text>
<text x="93" y="739" font-size="9.5">☿︎</text>
</g>
<g class="mono" font-size="10.83" fill="#3A3A3A" style="white-space:pre">
<text x="1147" y="40.5" text-anchor="middle">Lng</text>
<text x="1202" y="40.5" text-anchor="middle">Dcl</text>
<text x="1056" y="33" fill="#888" font-size="9.5" transform="rotate(-45 1056 33)">Nat</text>
<text x="1086.6" y="52.8" text-anchor="end">3</text>
<text x="1095" y="53.3" class="sym" font-size="12.5" text-anchor="middle">♊︎</text>
<text x="1117" y="52.8" text-anchor="end">28</text>
<text x="1170" y="52.8" text-anchor="end"> 63°28'</text>
<text x="1223.8" y="52.8" text-anchor="end">20°51'</text>
<text x="1086.6" y="68" text-anchor="end">20</text>
<text x="1095" y="68.5" class="sym" font-size="12.5" text-anchor="middle">♊︎</text>
<text x="1117" y="68" text-anchor="end">1</text>
<text x="1170" y="68" text-anchor="end"> 80° 1'</text>
<text x="1223.8" y="68" text-anchor="end">22°14'</text>
<text x="1086.6" y="83.1" text-anchor="end">23</text>
<text x="1095" y="83.6" class="sym" font-size="12.5" text-anchor="middle">♊︎</text>
<text x="1117" y="83.1" text-anchor="end">12</text>
<text x="1170" y="83.1" text-anchor="end"> 83°12'</text>
<text x="1223.8" y="83.1" text-anchor="end">25°31'</text>
<text x="1043.5" y="83.1" text-anchor="middle">R</text>
<text x="1086.6" y="98.3" text-anchor="end">19</text>
<text x="1095" y="98.8" class="sym" font-size="12.5" text-anchor="middle">♊︎</text>
<text x="1117" y="98.3" text-anchor="end">29</text>
<text x="1170" y="98.3" text-anchor="end"> 79°29'</text>
<text x="1223.8" y="98.3" text-anchor="end">25°47'</text>
<text x="1086.6" y="113.5" text-anchor="end">7</text>
<text x="1095" y="114" class="sym" font-size="12.5" text-anchor="middle">♓︎</text>
<text x="1117" y="113.5" text-anchor="end">28</text>
<text x="1170" y="113.5" text-anchor="end">337°28'</text>
<text x="1223.8" y="113.5" text-anchor="end">-10°47'</text>
<text x="1086.6" y="128.6" text-anchor="end">27</text>
<text x="1095" y="129.1" class="sym" font-size="12.5" text-anchor="middle">♑︎</text>
<text x="1117" y="128.6" text-anchor="end">6</text>
<text x="1170" y="128.6" text-anchor="end">297° 6'</text>
<text x="1223.8" y="128.6" text-anchor="end">-20°55'</text>
<text x="1043.5" y="128.6" text-anchor="middle">F</text>
<text x="1086.6" y="143.8" text-anchor="end">1</text>
<text x="1095" y="144.3" class="sym" font-size="12.5" text-anchor="middle">♒︎</text>
<text x="1117" y="143.8" text-anchor="end">49</text>
<text x="1170" y="143.8" text-anchor="end">301°49'</text>
<text x="1223.8" y="143.8" text-anchor="end">-19°53'</text>
<text x="1043.5" y="143.8" text-anchor="middle">R</text>
<text x="1086.6" y="159" text-anchor="end">8</text>
<text x="1095" y="159.5" class="sym" font-size="12.5" text-anchor="middle">♉︎</text>
<text x="1117" y="159" text-anchor="end">9</text>
<text x="1170" y="159" text-anchor="end"> 38° 9'</text>
<text x="1223.8" y="159" text-anchor="end">13°48'</text>
<text x="1043.5" y="159" text-anchor="middle">F</text>
<text x="1086.6" y="174.2" text-anchor="end">20</text>
<text x="1095" y="174.7" class="sym" font-size="12.5" text-anchor="middle">♓︎</text>
<text x="1117" y="174.2" text-anchor="end">43</text>
<text x="1170" y="174.2" text-anchor="end">350°43'</text>
<text x="1223.8" y="174.2" text-anchor="end">- 4°39'</text>
<text x="1043.5" y="174.2" text-anchor="middle">R</text>
<text x="1086.6" y="189.3" text-anchor="end">24</text>
<text x="1095" y="189.8" class="sym" font-size="12.5" text-anchor="middle">♑︎</text>
<text x="1117" y="189.3" text-anchor="end">48</text>
<text x="1170" y="189.3" text-anchor="end">294°48'</text>
<text x="1223.8" y="189.3" text-anchor="end">-22° 3'</text>
<text x="1086.6" y="204.5" text-anchor="end">29</text>
<text x="1095" y="205" class="sym" font-size="12.5" text-anchor="middle">♊︎</text>
<text x="1117" y="204.5" text-anchor="end">10</text>
<text x="1170" y="204.5" text-anchor="end"> 89°10'</text>
<text x="1223.8" y="204.5" text-anchor="end">23°26'</text>
<text x="1086.6" y="219.7" text-anchor="end">29</text>
<text x="1095" y="220.2" class="sym" font-size="12.5" text-anchor="middle">♐︎</text>
<text x="1117" y="219.7" text-anchor="end">10</text>
<text x="1170" y="219.7" text-anchor="end">269°10'</text>
<text x="1223.8" y="219.7" text-anchor="end">-23°26'</text>
<text x="1086.6" y="234.8" text-anchor="end">13</text>
<text x="1095" y="235.3" class="sym" font-size="12.5" text-anchor="middle">♈︎</text>
<text x="1117" y="234.8" text-anchor="end">12</text>
<text x="1170" y="234.8" text-anchor="end"> 13°12'</text>
<text x="1223.8" y="234.8" text-anchor="end">0°35'</text>
<text x="1086.6" y="250" text-anchor="end">15</text>
<text x="1095" y="250.5" class="sym" font-size="12.5" text-anchor="middle">♏︎</text>
<text x="1117" y="250" text-anchor="end">5</text>
<text x="1170" y="250" text-anchor="end">225° 5'</text>
<text x="1223.8" y="250" text-anchor="end">-16°22'</text>
<text x="1086.6" y="265.2" text-anchor="end">27</text>
<text x="1095" y="265.7" class="sym" font-size="12.5" text-anchor="middle">♐︎</text>
<text x="1117" y="265.2" text-anchor="end">8</text>
<text x="1170" y="265.2" text-anchor="end">267° 8'</text>
<text x="1223.8" y="265.2" text-anchor="end">-29° 1'</text>
<text x="1086.6" y="280.4" text-anchor="end">7</text>
<text x="1095" y="280.9" class="sym" font-size="12.5" text-anchor="middle">♓︎</text>
<text x="1117" y="280.4" text-anchor="end">48</text>
<text x="1170" y="280.4" text-anchor="end">337°48'</text>
<text x="1223.8" y="280.4" text-anchor="end">-17°12'</text>
<text x="1086.6" y="295.5" text-anchor="end">0</text>
<text x="1095" y="296" class="sym" font-size="12.5" text-anchor="middle">♒︎</text>
<text x="1117" y="295.5" text-anchor="end">48</text>
<text x="1170" y="295.5" text-anchor="end">300°48'</text>
<text x="1223.8" y="295.5" text-anchor="end">20° 4'</text>
<text x="1086.6" y="310.7" text-anchor="end">5</text>
<text x="1095" y="311.2" class="sym" font-size="12.5" text-anchor="middle">♎︎</text>
<text x="1117" y="310.7" text-anchor="end">50</text>
<text x="1170" y="310.7" text-anchor="end">185°50'</text>
<text x="1223.8" y="310.7" text-anchor="end">5°41'</text>
<text x="1086.6" y="325.9" text-anchor="end">25</text>
<text x="1095" y="326.4" class="sym" font-size="12.5" text-anchor="middle">♊︎</text>
<text x="1117" y="325.9" text-anchor="end">28</text>
<text x="1170" y="325.9" text-anchor="end"> 85°28'</text>
<text x="1223.8" y="325.9" text-anchor="end">22°26'</text>
<text x="1086.6" y="341" text-anchor="end">8</text>
<text x="1095" y="341.5" class="sym" font-size="12.5" text-anchor="middle">♈︎</text>
<text x="1117" y="341" text-anchor="end">27</text>
<text x="1170" y="341" text-anchor="end">  8°27'</text>
<text x="1223.8" y="341" text-anchor="end">5°50'</text>
<text x="1086.6" y="356.2" text-anchor="end">24</text>
<text x="1095" y="356.7" class="sym" font-size="12.5" text-anchor="middle">♈︎</text>
<text x="1117" y="356.2" text-anchor="end">17</text>
<text x="1170" y="356.2" text-anchor="end"> 24°17'</text>
<text x="1223.8" y="356.2" text-anchor="end">- 1°22'</text>
<text x="1086.6" y="371.4" text-anchor="end">27</text>
<text x="1095" y="371.9" class="sym" font-size="12.5" text-anchor="middle">♉︎</text>
<text x="1117" y="371.4" text-anchor="end">50</text>
<text x="1170" y="371.4" text-anchor="end"> 57°50'</text>
<text x="1223.8" y="371.4" text-anchor="end">8°11'</text>
<text x="1086.6" y="386.5" text-anchor="end">13</text>
<text x="1095" y="387" class="sym" font-size="12.5" text-anchor="middle">♋︎</text>
<text x="1117" y="386.5" text-anchor="end">8</text>
<text x="1170" y="386.5" text-anchor="end">103° 8'</text>
<text x="1223.8" y="386.5" text-anchor="end">22°47'</text>
<text x="1086.6" y="401.7" text-anchor="end">8</text>
<text x="1095" y="402.2" class="sym" font-size="12.5" text-anchor="middle">♓︎</text>
<text x="1117" y="401.7" text-anchor="end">56</text>
<text x="1170" y="401.7" text-anchor="end">338°56'</text>
<text x="1223.8" y="401.7" text-anchor="end">- 8°13'</text>
<text x="1086.6" y="416.9" text-anchor="end">26</text>
<text x="1095" y="417.4" class="sym" font-size="12.5" text-anchor="middle">♊︎</text>
<text x="1117" y="416.9" text-anchor="end">35</text>
<text x="1170" y="416.9" text-anchor="end"> 86°35'</text>
<text x="1223.8" y="416.9" text-anchor="end">23°24'</text>
<text x="1086.6" y="432.1" text-anchor="end">26</text>
<text x="1095" y="432.6" class="sym" font-size="12.5" text-anchor="middle">♊︎</text>
<text x="1117" y="432.1" text-anchor="end">35</text>
<text x="1170" y="432.1" text-anchor="end"> 86°35'</text>
<text x="1223.8" y="432.1" text-anchor="end">23°24'</text>
<text x="1086.6" y="447.2" text-anchor="end">18</text>
<text x="1095" y="447.7" class="sym" font-size="12.5" text-anchor="middle">♋︎</text>
<text x="1117" y="447.2" text-anchor="end">49</text>
<text x="1170" y="447.2" text-anchor="end">108°49'</text>
<text x="1223.8" y="447.2" text-anchor="end">22° 7'</text>
<text x="1086.6" y="462.4" text-anchor="end">11</text>
<text x="1095" y="462.9" class="sym" font-size="12.5" text-anchor="middle">♌︎</text>
<text x="1117" y="462.4" text-anchor="end">49</text>
<text x="1170" y="462.4" text-anchor="end">131°49'</text>
<text x="1223.8" y="462.4" text-anchor="end">17°14'</text>
<text x="1086.6" y="477.6" text-anchor="end">8</text>
<text x="1095" y="478.1" class="sym" font-size="12.5" text-anchor="middle">♍︎</text>
<text x="1117" y="477.6" text-anchor="end">56</text>
<text x="1170" y="477.6" text-anchor="end">158°56'</text>
<text x="1223.8" y="477.6" text-anchor="end">8°13'</text>
<text x="1086.6" y="492.7" text-anchor="end">12</text>
<text x="1095" y="493.2" class="sym" font-size="12.5" text-anchor="middle">♎︎</text>
<text x="1117" y="492.7" text-anchor="end">36</text>
<text x="1170" y="492.7" text-anchor="end">192°36'</text>
<text x="1223.8" y="492.7" text-anchor="end">- 4°59'</text>
<text x="1086.6" y="507.9" text-anchor="end">20</text>
<text x="1095" y="508.4" class="sym" font-size="12.5" text-anchor="middle">♏︎</text>
<text x="1117" y="507.9" text-anchor="end">47</text>
<text x="1170" y="507.9" text-anchor="end">230°47'</text>
<text x="1223.8" y="507.9" text-anchor="end">-17°57'</text>
<text x="1086.6" y="523.1" text-anchor="end">26</text>
<text x="1095" y="523.6" class="sym" font-size="12.5" text-anchor="middle">♐︎</text>
<text x="1117" y="523.1" text-anchor="end">35</text>
<text x="1170" y="523.1" text-anchor="end">266°35'</text>
<text x="1223.8" y="523.1" text-anchor="end">-23°24'</text>
<text x="1086.6" y="538.2" text-anchor="end">?18</text>
<text x="1095" y="538.7" class="sym" font-size="12.5" text-anchor="middle">♑︎</text>
<text x="1117" y="538.2" text-anchor="end">49</text>
<text x="1170" y="538.2" text-anchor="end">288°49'</text>
<text x="1223.8" y="538.2" text-anchor="end">-22° 7'</text>
<text x="1086.6" y="553.4" text-anchor="end">11</text>
<text x="1095" y="553.9" class="sym" font-size="12.5" text-anchor="middle">♒︎</text>
<text x="1117" y="553.4" text-anchor="end">49</text>
<text x="1170" y="553.4" text-anchor="end">311°49'</text>
<text x="1223.8" y="553.4" text-anchor="end">-17°14'</text>
<text x="1086.6" y="568.6" text-anchor="end">8</text>
<text x="1095" y="569.1" class="sym" font-size="12.5" text-anchor="middle">♓︎</text>
<text x="1117" y="568.6" text-anchor="end">56</text>
<text x="1170" y="568.6" text-anchor="end">338°56'</text>
<text x="1223.8" y="568.6" text-anchor="end">- 8°13'</text>
<text x="1086.6" y="583.8" text-anchor="end">12</text>
<text x="1095" y="584.2" class="sym" font-size="12.5" text-anchor="middle">♈︎</text>
<text x="1117" y="583.8" text-anchor="end">36</text>
<text x="1170" y="583.8" text-anchor="end"> 12°36'</text>
<text x="1223.8" y="583.8" text-anchor="end">4°59'</text>
<text x="1086.6" y="598.9" text-anchor="end">20</text>
<text x="1095" y="599.4" class="sym" font-size="12.5" text-anchor="middle">♉︎</text>
<text x="1117" y="598.9" text-anchor="end">47</text>
<text x="1170" y="598.9" text-anchor="end"> 50°47'</text>
<text x="1223.8" y="598.9" text-anchor="end">17°57'</text>
</g>
<g class="vd" font-size="9.6" fill="#3A3A3A">
<text x="955.8" y="52.2" text-anchor="end">Sun</text>
<text x="955.8" y="67.4" text-anchor="end">Moon</text>
<text x="1235.3" y="67.4">Nihal</text>
<text x="955.8" y="82.5" text-anchor="end">Mercury</text>
<text x="1235.3" y="82.5">Nair Al Saif</text>
<text x="955.8" y="97.7" text-anchor="end">Venus</text>
<text x="955.8" y="112.9" text-anchor="end">Mars</text>
<text x="955.8" y="128" text-anchor="end">Jupiter</text>
<text x="955.8" y="143.2" text-anchor="end">Saturn</text>
<text x="1235.3" y="143.2">Altair</text>
<text x="955.8" y="158.4" text-anchor="end">Uranus</text>
<text x="1235.3" y="158.4">Hamal</text>
<text x="955.8" y="173.6" text-anchor="end">Neptune</text>
<text x="955.8" y="188.7" text-anchor="end">Pluto</text>
<text x="955.8" y="203.9" text-anchor="end">Node</text>
<text x="1235.3" y="203.9">Betelgeuse</text>
<text x="955.8" y="219.1" text-anchor="end">S.Node</text>
<text x="1235.3" y="219.1">Acumen</text>
<text x="955.8" y="234.2" text-anchor="end">Lilith</text>
<text x="1235.3" y="234.2">Alderamin</text>
<text x="955.8" y="249.4" text-anchor="end">Vertex</text>
<text x="955.8" y="264.6" text-anchor="end">Center of Galaxy</text>
<text x="955.8" y="279.8" text-anchor="end">Ceres</text>
<text x="955.8" y="294.9" text-anchor="end">Pallas</text>
<text x="955.8" y="310.1" text-anchor="end">Juno</text>
<text x="1235.3" y="310.1">Turais</text>
<text x="955.8" y="325.3" text-anchor="end">Vesta</text>
<text x="955.8" y="340.4" text-anchor="end">Chiron</text>
<text x="955.8" y="355.6" text-anchor="end">Eris</text>
<text x="955.8" y="370.8" text-anchor="end">Sedna</text>
<text x="955.8" y="385.9" text-anchor="end">Pars of Fortune</text>
<text x="955.8" y="401.1" text-anchor="end">MC</text>
<text x="955.8" y="416.3" text-anchor="end">AS</text>
<text x="1235.3" y="416.3">Saiph</text>
<text x="1016.5" y="431.4" text-anchor="end">I House</text>
<text x="1235.3" y="431.4">Saiph</text>
<text x="1016.5" y="446.6" text-anchor="end">II House</text>
<text x="1235.3" y="446.6">Wasat</text>
<text x="1016.5" y="461.8" text-anchor="end">III House</text>
<text x="1016.5" y="477" text-anchor="end">IV House</text>
<text x="1016.5" y="492.1" text-anchor="end">V House</text>
<text x="1235.3" y="492.1">Alchiba</text>
<text x="1016.5" y="507.3" text-anchor="end">VI House</text>
<text x="1016.5" y="522.5" text-anchor="end">VII House</text>
<text x="1016.5" y="537.6" text-anchor="end">VIII House</text>
<text x="1016.5" y="552.8" text-anchor="end">IX House</text>
<text x="1016.5" y="568" text-anchor="end">X House</text>
<text x="1016.5" y="583.1" text-anchor="end">XI House</text>
<text x="1016.5" y="598.3" text-anchor="end">XII House</text>
</g>
<rect x="1010.4" y="44.4" width="10.5" height="8.5" fill="none" stroke="#333" stroke-width="0.8"/><path d="M1015.6 44.9L1020.4 48.6L1015.6 52.4L1010.9 48.6Z" stroke="#333" stroke-width="0.7" fill="none"/>
<path d="M1025.4 52.9L1029.9 44.4L1034.4 52.9ZM1026.8 50.3h6.2" fill="none" stroke="#333" stroke-width="0.8"/>
<text x="1058.5" y="52.8" class="sym" fill="#FF0000" font-size="11.5" text-anchor="middle">☉︎</text>
<rect x="991.1" y="46.4" width="11.5" height="2.9" fill="#FF1414"/>
<rect x="985.6" y="50.4" width="17" height="2.9" fill="#FF1414"/>
<rect x="1010.4" y="59.6" width="10.5" height="8.5" fill="none" stroke="#333" stroke-width="0.8"/><path d="M1015.6 60.1L1020.4 63.8L1015.6 67.6L1010.9 63.8Z" stroke="#333" stroke-width="0.7" fill="none"/>
<path d="M1025.4 68.1L1029.9 59.6L1034.4 68.1ZM1026.8 65.5h6.2" fill="none" stroke="#333" stroke-width="0.8"/>
<path d="M1056.1 60.1A4.5 4.5 0 1 1 1056.1 68.3A4.2 4.2 0 0 0 1056.1 60.1Z" fill="none" stroke="#FF0000" stroke-width="0.8" stroke-linejoin="miter"/>
<rect x="991.1" y="61.6" width="11.5" height="2.9" fill="#FF1414"/>
<rect x="980.6" y="65.6" width="22" height="2.9" fill="#FF1414"/>
<rect x="1010.4" y="74.7" width="10.5" height="8.5" fill="none" stroke="#333" stroke-width="0.8"/><path d="M1015.6 75.2L1020.4 79L1015.6 82.7L1010.9 79Z" stroke="#333" stroke-width="0.7" fill="none"/>
<path d="M1025.4 83.2L1029.9 74.7L1034.4 83.2ZM1026.8 80.6h6.2" fill="none" stroke="#333" stroke-width="0.8"/>
<text x="1058.5" y="83.1" class="sym" fill="#333" font-size="11.5" text-anchor="middle">☿︎</text>
<rect x="991.1" y="76.7" width="11.5" height="2.9" fill="#14A014"/>
<rect x="982.9" y="80.7" width="19.7" height="2.9" fill="#14A014"/>
<rect x="1010.4" y="89.9" width="10.5" height="8.5" fill="none" stroke="#333" stroke-width="0.8"/><path d="M1015.6 90.4L1020.4 94.2L1015.6 97.9L1010.9 94.2Z" stroke="#333" stroke-width="0.7" fill="none"/>
<path d="M1025.4 98.4L1029.9 89.9L1034.4 98.4ZM1026.8 95.8h6.2" fill="none" stroke="#333" stroke-width="0.8"/>
<text x="1058.5" y="98.3" class="sym" fill="#333" font-size="11.5" text-anchor="middle">♀︎</text>
<text x="1065.5" y="99.8" class="ar" fill="#333" font-size="6" text-anchor="middle">R</text>
<rect x="991.1" y="91.9" width="11.5" height="2.9" fill="#FF1414"/>
<rect x="967.6" y="95.9" width="35" height="2.9" fill="#FF1414"/>
<rect x="1010.4" y="105.1" width="10.5" height="8.5" fill="none" stroke="#333" stroke-width="0.8"/><path d="M1015.6 105.6L1020.4 109.3L1015.6 113.1L1010.9 109.3Z" stroke="#333" stroke-width="0.7" fill="none"/>
<path d="M1025.4 105.1L1029.9 113.6L1034.4 105.1ZM1026.8 107.7h6.2" fill="none" stroke="#333" stroke-width="0.8"/>
<text x="1058.5" y="113.5" class="sym" fill="#333" font-size="11.5" text-anchor="middle">♂︎</text>
<rect x="991.1" y="107.1" width="11.5" height="2.9" fill="#FF1414"/>
<rect x="965.1" y="111.1" width="37.5" height="2.9" fill="#14A014"/>
<rect x="1010.4" y="120.2" width="10.5" height="8.5" fill="none" stroke="#333" stroke-width="0.8"/><rect x="1015.1" y="124" width="1" height="1" fill="#333"/>
<path d="M1025.4 120.2L1029.9 128.7L1034.4 120.2Z" fill="none" stroke="#333" stroke-width="0.8"/>
<text x="1058.5" y="128.6" class="sym" fill="#333" font-size="11.5" text-anchor="middle">♃︎</text>
<text x="1065.5" y="130.1" class="ar" fill="#333" font-size="6" text-anchor="middle">R</text>
<rect x="993.2" y="122.2" width="9.4" height="2.9" fill="#FF1414"/>
<rect x="997.6" y="126.2" width="5" height="2.9" fill="#FF1414"/>
<rect x="1010.4" y="135.4" width="10.5" height="8.5" fill="none" stroke="#333" stroke-width="0.8"/><path d="M1015.6 135.4v8.5M1010.4 139.7h10.5" stroke="#333" stroke-width="0.8" fill="none"/>
<path d="M1025.4 143.9L1029.9 135.4L1034.4 143.9ZM1026.8 141.3h6.2" fill="none" stroke="#333" stroke-width="0.8"/>
<text x="1058.5" y="143.8" class="sym" fill="#333" font-size="11.5" text-anchor="middle">♄︎</text>
<text x="1065.5" y="145.3" class="ar" fill="#333" font-size="6" text-anchor="middle">R</text>
<rect x="982.9" y="137.4" width="19.7" height="2.9" fill="#14A014"/>
<rect x="997.6" y="141.4" width="5" height="2.9" fill="#FF1414"/>
<rect x="1010.4" y="150.6" width="10.5" height="8.5" fill="none" stroke="#333" stroke-width="0.8"/><path d="M1015.6 150.6v8.5M1010.4 154.8h10.5" stroke="#333" stroke-width="0.8" fill="none"/>
<path d="M1025.4 150.6L1029.9 159.1L1034.4 150.6Z" fill="none" stroke="#333" stroke-width="0.8"/>
<text x="1058.5" y="159" class="sym" fill="#333" font-size="11.5" text-anchor="middle">♅︎</text>
<rect x="993.2" y="152.6" width="9.4" height="2.9" fill="#FF1414"/>
<rect x="965.1" y="156.6" width="37.5" height="2.9" fill="#14A014"/>
<rect x="1010.4" y="165.8" width="10.5" height="8.5" fill="none" stroke="#333" stroke-width="0.8"/><path d="M1015.6 166.3L1020.4 170L1015.6 173.8L1010.9 170Z" stroke="#333" stroke-width="0.7" fill="none"/>
<path d="M1025.4 165.8L1029.9 174.3L1034.4 165.8ZM1026.8 168.4h6.2" fill="none" stroke="#333" stroke-width="0.8"/>
<text x="1058.5" y="174.2" class="sym" fill="#333" font-size="11.5" text-anchor="middle">♆︎</text>
<rect x="991.1" y="167.8" width="11.5" height="2.9" fill="#14A014"/>
<rect x="972.6" y="171.8" width="30" height="2.9" fill="#14A014"/>
<rect x="1010.4" y="180.9" width="10.5" height="8.5" fill="none" stroke="#333" stroke-width="0.8"/><rect x="1015.1" y="184.7" width="1" height="1" fill="#333"/>
<path d="M1025.4 180.9L1029.9 189.4L1034.4 180.9Z" fill="none" stroke="#333" stroke-width="0.8"/>
<g transform="translate(1058.5 185.7)" fill="none" stroke="#333" stroke-width="0.9" stroke-linecap="butt"><circle cx="0" cy="-3.1" r="1.4"/><path d="M-3.1 -3.8A3.1 3.8 0 0 0 3.1 -3.8M0 0V4.4M-2.1 2.3H2.1"/></g>
<text x="1065.5" y="190.8" class="ar" fill="#333" font-size="6" text-anchor="middle">R</text>
<rect x="990.2" y="182.9" width="12.4" height="2.9" fill="#FF1414"/>
<rect x="992.6" y="186.9" width="10" height="2.9" fill="#FF1414"/>
<rect x="1010.4" y="196.1" width="10.5" height="8.5" fill="none" stroke="#333" stroke-width="0.8"/><path d="M1015.6 196.6L1020.4 200.3L1015.6 204.1L1010.9 200.3Z" stroke="#333" stroke-width="0.7" fill="none"/>
<path d="M1025.4 204.6L1029.9 196.1L1034.4 204.6ZM1026.8 202h6.2" fill="none" stroke="#333" stroke-width="0.8"/>
<text x="1058.5" y="204.5" class="sym" fill="#333" font-size="11.5" text-anchor="middle">☊︎</text>
<rect x="1010.4" y="211.3" width="10.5" height="8.5" fill="none" stroke="#333" stroke-width="0.8"/><path d="M1015.6 211.8L1020.4 215.5L1015.6 219.3L1010.9 215.5Z" stroke="#333" stroke-width="0.7" fill="none"/>
<path d="M1025.4 219.8L1029.9 211.3L1034.4 219.8Z" fill="none" stroke="#333" stroke-width="0.8"/>
<text x="1058.5" y="219.7" class="sym" fill="#333" font-size="11.5" text-anchor="middle">☋︎</text>
<rect x="1010.4" y="226.4" width="10.5" height="8.5" fill="none" stroke="#333" stroke-width="0.8"/><rect x="1015.1" y="230.2" width="1" height="1" fill="#333"/>
<path d="M1025.4 234.9L1029.9 226.4L1034.4 234.9Z" fill="none" stroke="#333" stroke-width="0.8"/>
<text x="1058.5" y="234.8" class="sym" fill="#333" font-size="11.5" text-anchor="middle">⚸︎</text>
<rect x="1010.4" y="241.6" width="10.5" height="8.5" fill="none" stroke="#333" stroke-width="0.8"/><path d="M1015.6 241.6v8.5M1010.4 245.9h10.5" stroke="#333" stroke-width="0.8" fill="none"/>
<path d="M1025.4 241.6L1029.9 250.1L1034.4 241.6ZM1026.8 244.2h6.2" fill="none" stroke="#333" stroke-width="0.8"/>
<text x="1058.5" y="250" class="sym" fill="#333" font-size="11.5" text-anchor="middle">✳︎</text>
<rect x="1010.4" y="256.8" width="10.5" height="8.5" fill="none" stroke="#333" stroke-width="0.8"/><path d="M1015.6 257.3L1020.4 261L1015.6 264.8L1010.9 261Z" stroke="#333" stroke-width="0.7" fill="none"/>
<path d="M1025.4 265.3L1029.9 256.8L1034.4 265.3Z" fill="none" stroke="#333" stroke-width="0.8"/>
<text x="1058.5" y="265.2" class="sym" fill="#333" font-size="11.5" text-anchor="middle">◇</text>
<rect x="1010.4" y="272" width="10.5" height="8.5" fill="none" stroke="#333" stroke-width="0.8"/><path d="M1015.6 272.5L1020.4 276.2L1015.6 280L1010.9 276.2Z" stroke="#333" stroke-width="0.7" fill="none"/>
<path d="M1025.4 272L1029.9 280.5L1034.4 272ZM1026.8 274.6h6.2" fill="none" stroke="#333" stroke-width="0.8"/>
<text x="1058.5" y="280.4" class="sym" fill="#333" font-size="11.5" text-anchor="middle">⚳︎</text>
<rect x="1010.4" y="287.1" width="10.5" height="8.5" fill="none" stroke="#333" stroke-width="0.8"/><path d="M1015.6 287.1v8.5M1010.4 291.4h10.5" stroke="#333" stroke-width="0.8" fill="none"/>
<path d="M1025.4 295.6L1029.9 287.1L1034.4 295.6ZM1026.8 293h6.2" fill="none" stroke="#333" stroke-width="0.8"/>
<text x="1058.5" y="295.5" class="sym" fill="#333" font-size="11.5" text-anchor="middle">⚴︎</text>
<text x="1065.5" y="297" class="ar" fill="#333" font-size="6" text-anchor="middle">R</text>
<rect x="1010.4" y="302.3" width="10.5" height="8.5" fill="none" stroke="#333" stroke-width="0.8"/><rect x="1015.1" y="306" width="1" height="1" fill="#333"/>
<path d="M1025.4 310.8L1029.9 302.3L1034.4 310.8ZM1026.8 308.2h6.2" fill="none" stroke="#333" stroke-width="0.8"/>
<text x="1058.5" y="310.7" class="sym" fill="#333" font-size="11.5" text-anchor="middle">⚵︎</text>
<text x="1065.5" y="312.2" class="ar" fill="#333" font-size="6" text-anchor="middle">R</text>
<rect x="1010.4" y="317.5" width="10.5" height="8.5" fill="none" stroke="#333" stroke-width="0.8"/><path d="M1015.6 318L1020.4 321.7L1015.6 325.5L1010.9 321.7Z" stroke="#333" stroke-width="0.7" fill="none"/>
<path d="M1025.4 326L1029.9 317.5L1034.4 326ZM1026.8 323.4h6.2" fill="none" stroke="#333" stroke-width="0.8"/>
<text x="1058.5" y="325.9" class="sym" fill="#333" font-size="11.5" text-anchor="middle">⚶︎</text>
<rect x="1010.4" y="332.6" width="10.5" height="8.5" fill="none" stroke="#333" stroke-width="0.8"/><rect x="1015.1" y="336.4" width="1" height="1" fill="#333"/>
<path d="M1025.4 341.1L1029.9 332.6L1034.4 341.1Z" fill="none" stroke="#333" stroke-width="0.8"/>
<text x="1058.5" y="341" class="sym" fill="#333" font-size="11.5" text-anchor="middle">⚷︎</text>
<rect x="1010.4" y="347.8" width="10.5" height="8.5" fill="none" stroke="#333" stroke-width="0.8"/><rect x="1015.1" y="351.6" width="1" height="1" fill="#333"/>
<path d="M1025.4 356.3L1029.9 347.8L1034.4 356.3Z" fill="none" stroke="#333" stroke-width="0.8"/>
<text x="1058.5" y="356.2" class="ar" fill="#2E7D32" font-size="11" text-anchor="middle" textLength="11" lengthAdjust="spacingAndGlyphs">ER</text>
<rect x="1010.4" y="363" width="10.5" height="8.5" fill="none" stroke="#333" stroke-width="0.8"/><path d="M1015.6 363v8.5M1010.4 367.2h10.5" stroke="#333" stroke-width="0.8" fill="none"/>
<path d="M1025.4 363L1029.9 371.5L1034.4 363Z" fill="none" stroke="#333" stroke-width="0.8"/>
<text x="1058.5" y="370.9" class="sym" fill="#2E8B4A" font-size="11" text-anchor="middle" transform="rotate(-25 1058.5 368.4)">≋</text>
<rect x="1010.4" y="378.1" width="10.5" height="8.5" fill="none" stroke="#333" stroke-width="0.8"/><rect x="1015.1" y="381.9" width="1" height="1" fill="#333"/>
<path d="M1025.4 378.1L1029.9 386.6L1034.4 378.1ZM1026.8 380.7h6.2" fill="none" stroke="#333" stroke-width="0.8"/>
<g stroke="#008080" stroke-width="0.9" fill="none"><circle cx="1058.5" cy="382.7" r="4.6"/><path d="M1055.2 379.5L1061.8 386M1061.8 379.5L1055.2 386"/></g>
<rect x="967.1" y="381.5" width="35.5" height="2.9" fill="#14A014"/>
<rect x="1010.4" y="393.3" width="10.5" height="8.5" fill="none" stroke="#333" stroke-width="0.8"/><path d="M1015.6 393.8L1020.4 397.6L1015.6 401.3L1010.9 397.6Z" stroke="#333" stroke-width="0.7" fill="none"/>
<path d="M1025.4 393.3L1029.9 401.8L1034.4 393.3ZM1026.8 395.9h6.2" fill="none" stroke="#333" stroke-width="0.8"/>
<text x="1058.5" y="401.7" class="ar" fill="#2020FF" font-size="11" text-anchor="middle" textLength="12" lengthAdjust="spacingAndGlyphs">MC</text>
<rect x="1010.4" y="408.5" width="10.5" height="8.5" fill="none" stroke="#333" stroke-width="0.8"/><path d="M1015.6 409L1020.4 412.7L1015.6 416.5L1010.9 412.7Z" stroke="#333" stroke-width="0.7" fill="none"/>
<path d="M1025.4 417L1029.9 408.5L1034.4 417ZM1026.8 414.4h6.2" fill="none" stroke="#333" stroke-width="0.8"/>
<text x="1058.5" y="416.9" class="ar" fill="#8B4513" font-size="11" text-anchor="middle" textLength="13" lengthAdjust="spacingAndGlyphs">Asc</text>
<text x="1058.5" y="432.1" class="ar" fill="#333" font-size="11" text-anchor="middle" textLength="13" lengthAdjust="spacingAndGlyphs">Asc</text>
<rect x="1053.3" y="439" width="10.5" height="9" fill="none" stroke="#333" stroke-width="0.8"/><text x="1058.5" y="446.4" class="ar" fill="#333" font-size="8" text-anchor="middle">2</text>
<rect x="1053.3" y="454.2" width="10.5" height="9" fill="none" stroke="#333" stroke-width="0.8"/><text x="1058.5" y="461.6" class="ar" fill="#333" font-size="8" text-anchor="middle">3</text>
<text x="1058.5" y="477.6" class="ar" fill="#333" font-size="11" text-anchor="middle" textLength="8" lengthAdjust="spacingAndGlyphs">IC</text>
<rect x="1053.3" y="484.5" width="10.5" height="9" fill="none" stroke="#333" stroke-width="0.8"/><text x="1058.5" y="491.9" class="ar" fill="#333" font-size="8" text-anchor="middle">5</text>
<rect x="1053.3" y="499.7" width="10.5" height="9" fill="none" stroke="#333" stroke-width="0.8"/><text x="1058.5" y="507.1" class="ar" fill="#333" font-size="8" text-anchor="middle">6</text>
<text x="1058.5" y="523.1" class="ar" fill="#333" font-size="11" text-anchor="middle" textLength="13" lengthAdjust="spacingAndGlyphs">Dsc</text>
<rect x="1053.3" y="530" width="10.5" height="9" fill="none" stroke="#333" stroke-width="0.8"/><text x="1058.5" y="537.4" class="ar" fill="#333" font-size="8" text-anchor="middle">8</text>
<rect x="1053.3" y="545.2" width="10.5" height="9" fill="none" stroke="#333" stroke-width="0.8"/><text x="1058.5" y="552.6" class="ar" fill="#333" font-size="8" text-anchor="middle">9</text>
<text x="1058.5" y="568.6" class="ar" fill="#333" font-size="11" text-anchor="middle" textLength="12" lengthAdjust="spacingAndGlyphs">MC</text>
<rect x="1053.3" y="575.5" width="10.5" height="9" fill="none" stroke="#333" stroke-width="0.8"/><text x="1058.5" y="583" class="ar" fill="#333" font-size="8" text-anchor="middle">11</text>
<rect x="1053.3" y="590.7" width="10.5" height="9" fill="none" stroke="#333" stroke-width="0.8"/><text x="1058.5" y="598.1" class="ar" fill="#333" font-size="8" text-anchor="middle">12</text>
<text x="1154.5" y="506.8" class="ar" fill="#B0B0B0" font-size="11" textLength="226" lengthAdjust="spacingAndGlyphs" font-style="italic">By:  Gabriella Mittelman Financial Astrologer</text>
<text x="1153" y="505.5" class="ar" fill="#444" font-size="11" textLength="226" lengthAdjust="spacingAndGlyphs" font-style="italic">By:  Gabriella Mittelman Financial Astrologer</text>
<path d="M822.4 725.2L828.5 725.2L830.7 733.7L820.2 733.7Z" fill="none" stroke="#333" stroke-width="0.8"/><rect x="825" y="729" width="1" height="1" fill="#333"/>
<rect x="820.2" y="756" width="10.5" height="8.5" fill="none" stroke="#333" stroke-width="0.8"/><rect x="825" y="759.8" width="1" height="1" fill="#333"/>
<path d="M840.2 725.2L846.3 725.2L848.5 733.7L838 733.7Z" fill="none" stroke="#333" stroke-width="0.8"/><path d="M843.2 725.2v8.5M838.6 729.8h9.4" stroke="#333" stroke-width="0.8" fill="none"/>
<rect x="838" y="756" width="10.5" height="8.5" fill="none" stroke="#333" stroke-width="0.8"/><path d="M843.2 756v8.5M838 760.2h10.5" stroke="#333" stroke-width="0.8" fill="none"/>
<path d="M857.8 725.2L863.9 725.2L866.1 733.7L855.6 733.7Z" fill="none" stroke="#333" stroke-width="0.8"/><path d="M860.9 725.7L865 730.2L860.9 733.2L856.7 730.2Z" stroke="#333" stroke-width="0.7" fill="none"/>
<rect x="855.6" y="756" width="10.5" height="8.5" fill="none" stroke="#333" stroke-width="0.8"/><path d="M860.9 756.5L865.6 760.2L860.9 764L856.1 760.2Z" stroke="#333" stroke-width="0.7" fill="none"/>
<path d="M892 764.5L896.5 756L901 764.5Z" fill="none" stroke="#333" stroke-width="0.8"/>
<circle cx="896.8" cy="729.6" r="5.6" fill="none" stroke="#333" stroke-width="0.8"/>
<path d="M892 729.6h9.6a4.8 4 0 0 0 -9.6 0z" fill="none" stroke="#333" stroke-width="0.7"/>
<path d="M909.6 756L914.1 764.5L918.6 756Z" fill="none" stroke="#333" stroke-width="0.8"/>
<circle cx="914.4" cy="729.6" r="5.6" fill="none" stroke="#333" stroke-width="0.8"/>
<path d="M909.6 730.6h9.6a4.8 4 0 0 1 -9.6 0z" fill="none" stroke="#333" stroke-width="0.7"/>
<path d="M927.4 764.5L931.9 756L936.4 764.5ZM928.8 761.9h6.2" fill="none" stroke="#333" stroke-width="0.8"/>
<circle cx="932.2" cy="729.6" r="5.6" fill="none" stroke="#333" stroke-width="0.8"/>
<path d="M931.7 724.8v9.6a4 4.8 0 0 1 0 -9.6z" fill="none" stroke="#333" stroke-width="0.7"/>
<path d="M944.6 756L949.1 764.5L953.6 756ZM946 758.6h6.2" fill="none" stroke="#333" stroke-width="0.8"/>
<circle cx="949.4" cy="729.6" r="5.6" fill="none" stroke="#333" stroke-width="0.8"/>
<path d="M949.9 724.8v9.6a4 4.8 0 0 0 0 -9.6z" fill="none" stroke="#333" stroke-width="0.7"/>
<g class="vd" font-size="9.6" fill="#3A3A3A">
<text x="820" y="747.6">10</text>
<text x="837.5" y="747.6">40</text>
<text x="855" y="747.6">50</text>
<text x="820" y="777.8">20</text>
<text x="837.5" y="777.8">20</text>
<text x="855" y="777.8">60</text>
<text x="890.5" y="747.6">100</text>
<text x="911" y="747.6">0</text>
<text x="926" y="747.6">60</text>
<text x="943.5" y="747.6">40</text>
<text x="959" y="747.6">%</text>
<text x="893.5" y="777.8">0</text>
<text x="908.5" y="777.8">30</text>
<text x="926" y="777.8">50</text>
<text x="943.5" y="777.8">20</text>
<text x="959" y="777.8">%</text>
</g>
<g stroke="#008080" stroke-width="0.9" fill="none"><circle cx="1399.4" cy="623.4" r="4.8"/><path d="M1396 620L1402.8 626.8M1402.8 620L1396 626.8"/></g>
<line x1="1381.8" y1="632" x2="1412" y2="632" stroke="#333" stroke-width="0.9"/>
<line x1="1399.4" y1="632" x2="1399.4" y2="660.4" stroke="#111" stroke-width="1.0"/>
<line x1="1396.8" y1="640.7" x2="1402" y2="640.7" stroke="#777" stroke-width="0.9"/>
<text x="1388.8" y="644.2" class="sym" fill="#333" font-size="10.5" text-anchor="middle">♃︎</text>
<text x="1409" y="644.2" class="sym" fill="#333" font-size="10.5" text-anchor="middle">☋︎</text>
<line x1="1396.8" y1="653.8" x2="1402" y2="653.8" stroke="#777" stroke-width="0.9"/>
<text x="1388.8" y="657.3" class="sym" fill="#333" font-size="10.5" text-anchor="middle">◇</text>
<text x="1409" y="657.3" class="sym" fill="#333" font-size="10.5" text-anchor="middle">⚴︎</text>
<text x="1444.6" y="627" class="ar" fill="#2020FF" font-size="10.5" text-anchor="middle" textLength="11" lengthAdjust="spacingAndGlyphs">MC</text>
<line x1="1427" y1="632" x2="1457.2" y2="632" stroke="#333" stroke-width="0.9"/>
<line x1="1444.6" y1="632" x2="1444.6" y2="647.2" stroke="#111" stroke-width="1.0"/>
<line x1="1442" y1="640.7" x2="1447.2" y2="640.7" stroke="#777" stroke-width="0.9"/>
<g transform="translate(1434 640.9)" fill="none" stroke="#333" stroke-width="0.9" stroke-linecap="butt"><circle cx="0" cy="-3" r="1.3"/><path d="M-3 -3.6A3 3.6 0 0 0 3 -3.6M0 0V4.2M-2 2.2H2"/></g>
<text x="1454.2" y="644.3" class="ar" fill="#2E7D32" font-size="10.5" text-anchor="middle" textLength="10" lengthAdjust="spacingAndGlyphs">ER</text>
<text x="1489.8" y="627" class="ar" fill="#8B4513" font-size="10.5" text-anchor="middle" textLength="12" lengthAdjust="spacingAndGlyphs">Asc</text>
<line x1="1472.2" y1="632" x2="1502.4" y2="632" stroke="#333" stroke-width="0.9"/>
<line x1="1489.8" y1="632" x2="1489.8" y2="660.4" stroke="#111" stroke-width="1.0"/>
<line x1="1487.2" y1="640.7" x2="1492.4" y2="640.7" stroke="#777" stroke-width="0.9"/>
<text x="1479.2" y="644.2" class="sym" fill="#333" font-size="10.5" text-anchor="middle">☊︎</text>
<text x="1499.4" y="644.2" class="sym" fill="#333" font-size="10.5" text-anchor="middle">☿︎</text>
<line x1="1487.2" y1="653.8" x2="1492.4" y2="653.8" stroke="#777" stroke-width="0.9"/>
<text x="1479.2" y="657.3" class="sym" fill="#333" font-size="10.5" text-anchor="middle">☊︎</text>
<text x="1499.4" y="657.3" class="sym" fill="#333" font-size="10.5" text-anchor="middle">⚶︎</text>
<text x="1535.6" y="626.9" class="sym" fill="#FF0000" font-size="10.5" text-anchor="middle">☉︎</text>
<line x1="1518" y1="632" x2="1548.2" y2="632" stroke="#333" stroke-width="0.9"/>
<line x1="1535.6" y1="632" x2="1535.6" y2="686.8" stroke="#111" stroke-width="1.0"/>
<line x1="1533" y1="640.7" x2="1538.2" y2="640.7" stroke="#777" stroke-width="0.9"/>
<text x="1525" y="644.2" class="sym" fill="#333" font-size="10.5" text-anchor="middle">⚴︎</text>
<text x="1545.2" y="644.2" class="sym" fill="#333" font-size="10.5" text-anchor="middle">⚵︎</text>
<line x1="1533" y1="653.8" x2="1538.2" y2="653.8" stroke="#777" stroke-width="0.9"/>
<text x="1525" y="657.3" class="sym" fill="#333" font-size="10.5" text-anchor="middle">☊︎</text>
<text x="1545.2" y="657.3" class="sym" fill="#333" font-size="10.5" text-anchor="middle">♅︎</text>
<line x1="1533" y1="666.9" x2="1538.2" y2="666.9" stroke="#777" stroke-width="0.9"/>
<g stroke="#008080" stroke-width="0.9" fill="none"><circle cx="1525" cy="666.9" r="4.8"/><path d="M1521.6 663.5L1528.4 670.3M1528.4 663.5L1521.6 670.3"/></g>
<text x="1545.2" y="670.5" class="ar" fill="#2E7D32" font-size="10.5" text-anchor="middle" textLength="10" lengthAdjust="spacingAndGlyphs">ER</text>
<line x1="1533" y1="680" x2="1538.2" y2="680" stroke="#777" stroke-width="0.9"/>
<text x="1525" y="683.5" class="sym" fill="#333" font-size="10.5" text-anchor="middle">♄︎</text>
<text x="1545.2" y="683.5" class="sym" fill="#333" font-size="10.5" text-anchor="middle">⚵︎</text>
<path d="M1578.6 619.3A4.5 4.5 0 1 1 1578.6 627.5A4.2 4.2 0 0 0 1578.6 619.3Z" fill="none" stroke="#FF0000" stroke-width="0.8" stroke-linejoin="miter"/>
<line x1="1563.4" y1="632" x2="1593.6" y2="632" stroke="#333" stroke-width="0.9"/>
<line x1="1581" y1="632" x2="1581" y2="660.4" stroke="#111" stroke-width="1.0"/>
<line x1="1578.4" y1="640.7" x2="1583.6" y2="640.7" stroke="#777" stroke-width="0.9"/>
<g transform="translate(1570.4 640.9)" fill="none" stroke="#333" stroke-width="0.9" stroke-linecap="butt"><circle cx="0" cy="-3" r="1.3"/><path d="M-3 -3.6A3 3.6 0 0 0 3 -3.6M0 0V4.2M-2 2.2H2"/></g>
<text x="1590.6" y="644.1" class="sym" fill="#333" font-size="12" text-anchor="middle">∗</text>
<line x1="1578.4" y1="653.8" x2="1583.6" y2="653.8" stroke="#777" stroke-width="0.9"/>
<g stroke="#008080" stroke-width="0.9" fill="none"><circle cx="1570.4" cy="653.8" r="4.8"/><path d="M1567 650.4L1573.8 657.2M1573.8 650.4L1567 657.2"/></g>
<text x="1590.6" y="657" class="sym" fill="#2E7D32" font-size="10" text-anchor="middle" transform="rotate(-25 1590.6 653.8)">≋</text>
<text x="1399.4" y="704.4" class="sym" fill="#333" font-size="10.5" text-anchor="middle">☊︎</text>
<line x1="1381.8" y1="709.5" x2="1412" y2="709.5" stroke="#333" stroke-width="0.9"/>
<line x1="1399.4" y1="709.5" x2="1399.4" y2="724.7" stroke="#111" stroke-width="1.0"/>
<line x1="1396.8" y1="718.2" x2="1402" y2="718.2" stroke="#777" stroke-width="0.9"/>
<text x="1388.8" y="721.7" class="sym" fill="#333" font-size="10.5" text-anchor="middle">♆︎</text>
<text x="1409" y="721.7" class="sym" fill="#333" font-size="10.5" text-anchor="middle">⚵︎</text>
<text x="1444.6" y="704.4" class="sym" fill="#333" font-size="10.5" text-anchor="middle">☿︎</text>
<line x1="1427" y1="709.5" x2="1457.2" y2="709.5" stroke="#333" stroke-width="0.9"/>
<line x1="1444.6" y1="709.5" x2="1444.6" y2="790.7" stroke="#111" stroke-width="1.0"/>
<line x1="1442" y1="718.2" x2="1447.2" y2="718.2" stroke="#777" stroke-width="0.9"/>
<text x="1434" y="721.8" class="ar" fill="#8B4513" font-size="10.5" text-anchor="middle" textLength="12" lengthAdjust="spacingAndGlyphs">Asc</text>
<path d="M1451.8 714.1A4.5 4.5 0 1 1 1451.8 722.3A4.2 4.2 0 0 0 1451.8 714.1Z" fill="none" stroke="#FF0000" stroke-width="0.8" stroke-linejoin="miter"/>
<line x1="1442" y1="731.3" x2="1447.2" y2="731.3" stroke="#777" stroke-width="0.9"/>
<g stroke="#008080" stroke-width="0.9" fill="none"><circle cx="1434" cy="731.3" r="4.8"/><path d="M1430.6 727.9L1437.4 734.7M1437.4 727.9L1430.6 734.7"/></g>
<text x="1454.2" y="734.8" class="sym" fill="#FF0000" font-size="10.5" text-anchor="middle">☉︎</text>
<line x1="1442" y1="744.4" x2="1447.2" y2="744.4" stroke="#777" stroke-width="0.9"/>
<text x="1434" y="748" class="ar" fill="#8B4513" font-size="10.5" text-anchor="middle" textLength="12" lengthAdjust="spacingAndGlyphs">Asc</text>
<text x="1454.2" y="747.9" class="sym" fill="#333" font-size="10.5" text-anchor="middle">♀︎</text>
<line x1="1442" y1="757.5" x2="1447.2" y2="757.5" stroke="#777" stroke-width="0.9"/>
<text x="1434" y="761" class="sym" fill="#333" font-size="10.5" text-anchor="middle">♄︎</text>
<text x="1454.2" y="760.9" class="sym" fill="#333" font-size="12" text-anchor="middle">∗</text>
<line x1="1442" y1="770.6" x2="1447.2" y2="770.6" stroke="#777" stroke-width="0.9"/>
<text x="1434" y="774" class="sym" fill="#333" font-size="12" text-anchor="middle">∗</text>
<text x="1454.2" y="774.1" class="sym" fill="#333" font-size="10.5" text-anchor="middle">⚴︎</text>
<line x1="1442" y1="783.7" x2="1447.2" y2="783.7" stroke="#777" stroke-width="0.9"/>
<path d="M1431.6 779.6A4.5 4.5 0 1 1 1431.6 787.8A4.2 4.2 0 0 0 1431.6 779.6Z" fill="none" stroke="#FF0000" stroke-width="0.8" stroke-linejoin="miter"/>
<text x="1454.2" y="787.2" class="sym" fill="#333" font-size="10.5" text-anchor="middle">⚷︎</text>
<text x="1489.8" y="704.4" class="sym" fill="#333" font-size="10.5" text-anchor="middle">♀︎</text>
<line x1="1472.2" y1="709.5" x2="1502.4" y2="709.5" stroke="#333" stroke-width="0.9"/>
<line x1="1489.8" y1="709.5" x2="1489.8" y2="724.7" stroke="#111" stroke-width="1.0"/>
<line x1="1487.2" y1="718.2" x2="1492.4" y2="718.2" stroke="#777" stroke-width="0.9"/>
<g transform="translate(1479.2 718.4)" fill="none" stroke="#333" stroke-width="0.9" stroke-linecap="butt"><circle cx="0" cy="-3" r="1.3"/><path d="M-3 -3.6A3 3.6 0 0 0 3 -3.6M0 0V4.2M-2 2.2H2"/></g>
<text x="1499.4" y="721.6" class="sym" fill="#333" font-size="12" text-anchor="middle">∗</text>
<text x="1535.6" y="704.4" class="sym" fill="#333" font-size="10.5" text-anchor="middle">♂︎</text>
<line x1="1518" y1="709.5" x2="1548.2" y2="709.5" stroke="#333" stroke-width="0.9"/>
<line x1="1535.6" y1="709.5" x2="1535.6" y2="764.3" stroke="#111" stroke-width="1.0"/>
<line x1="1533" y1="718.2" x2="1538.2" y2="718.2" stroke="#777" stroke-width="0.9"/>
<text x="1525" y="721.7" class="sym" fill="#333" font-size="10.5" text-anchor="middle">♄︎</text>
<text x="1545.2" y="721.7" class="sym" fill="#333" font-size="10.5" text-anchor="middle">⚸︎</text>
<line x1="1533" y1="731.3" x2="1538.2" y2="731.3" stroke="#777" stroke-width="0.9"/>
<text x="1525" y="734.8" class="sym" fill="#333" font-size="10.5" text-anchor="middle">☊︎</text>
<text x="1545.2" y="734.7" class="sym" fill="#333" font-size="12" text-anchor="middle">∗</text>
<line x1="1533" y1="744.4" x2="1538.2" y2="744.4" stroke="#777" stroke-width="0.9"/>
<text x="1525" y="747.9" class="sym" fill="#333" font-size="10.5" text-anchor="middle">⚸︎</text>
<text x="1545.2" y="747.9" class="sym" fill="#333" font-size="10.5" text-anchor="middle">⚴︎</text>
<line x1="1533" y1="757.5" x2="1538.2" y2="757.5" stroke="#777" stroke-width="0.9"/>
<text x="1525" y="761.1" class="ar" fill="#2020FF" font-size="10.5" text-anchor="middle" textLength="11" lengthAdjust="spacingAndGlyphs">MC</text>
<text x="1545.2" y="761" class="sym" fill="#333" font-size="10.5" text-anchor="middle">⚳︎</text>
<text x="1581" y="704.4" class="sym" fill="#333" font-size="10.5" text-anchor="middle">♃︎</text>
<line x1="1563.4" y1="709.5" x2="1593.6" y2="709.5" stroke="#333" stroke-width="0.9"/>
<line x1="1581" y1="709.5" x2="1581" y2="737.9" stroke="#111" stroke-width="1.0"/>
<line x1="1578.4" y1="718.2" x2="1583.6" y2="718.2" stroke="#777" stroke-width="0.9"/>
<text x="1570.4" y="721.6" class="sym" fill="#333" font-size="12" text-anchor="middle">∗</text>
<text x="1590.6" y="721.7" class="sym" fill="#333" font-size="10.5" text-anchor="middle">⚷︎</text>
<line x1="1578.4" y1="731.3" x2="1583.6" y2="731.3" stroke="#777" stroke-width="0.9"/>
<g transform="translate(1570.4 731.5)" fill="none" stroke="#333" stroke-width="0.9" stroke-linecap="butt"><circle cx="0" cy="-3" r="1.3"/><path d="M-3 -3.6A3 3.6 0 0 0 3 -3.6M0 0V4.2M-2 2.2H2"/></g>
<text x="1590.6" y="734.8" class="sym" fill="#333" font-size="10.5" text-anchor="middle">⚴︎</text>
<text x="1336" y="747" class="ar" fill="#B4B4B4" font-size="15.2" textLength="132" lengthAdjust="spacingAndGlyphs">Activate Windows</text>
<text x="1336" y="765" class="ar" fill="#B8B8B8" font-size="11.6" textLength="199" lengthAdjust="spacingAndGlyphs">Go to Settings to activate Windows.</text>
<rect x="0" y="785" width="1600" height="6" fill="#F0F0F0"/>
<rect x="66.5" y="786.5" width="1" height="5" fill="#D8D8D8"/>
<rect x="133.5" y="786.5" width="1" height="5" fill="#D8D8D8"/>
<rect x="1293" y="786.5" width="1" height="5" fill="#D8D8D8"/>
<rect x="1325.5" y="786.5" width="1" height="5" fill="#D8D8D8"/>
<rect x="1425.5" y="786.5" width="1" height="5" fill="#D8D8D8"/>
<rect x="1507.5" y="786.5" width="1" height="5" fill="#D8D8D8"/>
<rect x="1296.5" y="788.5" width="12" height="3" fill="#0A7A0A"/>
<rect x="1341" y="788" width="12.5" height="4" rx="1" fill="#fff" stroke="#777" stroke-width="0.8"/>
<rect x="1355" y="788" width="12.5" height="4" rx="1" fill="#fff" stroke="#777" stroke-width="0.8"/>
<rect x="1369" y="788" width="12.5" height="4" rx="1" fill="#fff" stroke="#777" stroke-width="0.8"/>
</svg>
</body></html>
